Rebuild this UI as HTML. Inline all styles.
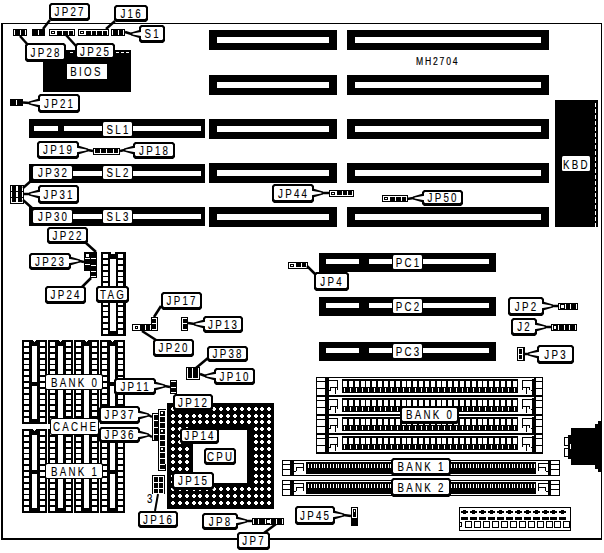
<!DOCTYPE html>
<html><head><meta charset="utf-8"><style>
html,body{margin:0;padding:0;background:#fff;width:604px;height:553px;overflow:hidden}
svg{display:block}
text{font-family:"Liberation Sans",sans-serif;fill:#000;stroke:#000;stroke-width:0.12px}
</style></head><body>
<svg width="604" height="553" viewBox="0 0 604 553" shape-rendering="crispEdges">
<rect x="0" y="0" width="604" height="553" fill="#fff"/>
<rect x="1" y="23" width="601" height="1" fill="#000"/>
<rect x="1" y="23" width="2" height="517" fill="#000"/>
<rect x="601" y="23" width="1" height="517" fill="#000"/>
<rect x="1" y="538" width="601" height="2" fill="#000"/>
<rect x="209" y="30" width="128" height="20" fill="#000"/>
<rect x="217" y="37" width="112" height="6" fill="#fff"/>
<rect x="347" y="30" width="202" height="20" fill="#000"/>
<rect x="355" y="37" width="186" height="6" fill="#fff"/>
<rect x="209" y="75" width="128" height="20" fill="#000"/>
<rect x="217" y="82" width="112" height="6" fill="#fff"/>
<rect x="347" y="75" width="202" height="20" fill="#000"/>
<rect x="355" y="82" width="186" height="6" fill="#fff"/>
<rect x="209" y="119" width="128" height="20" fill="#000"/>
<rect x="217" y="126" width="112" height="6" fill="#fff"/>
<rect x="347" y="119" width="202" height="20" fill="#000"/>
<rect x="355" y="126" width="186" height="6" fill="#fff"/>
<rect x="209" y="163" width="128" height="20" fill="#000"/>
<rect x="217" y="170" width="112" height="6" fill="#fff"/>
<rect x="347" y="163" width="202" height="20" fill="#000"/>
<rect x="355" y="170" width="186" height="6" fill="#fff"/>
<rect x="209" y="207" width="128" height="20" fill="#000"/>
<rect x="217" y="214" width="112" height="6" fill="#fff"/>
<rect x="347" y="207" width="202" height="20" fill="#000"/>
<rect x="355" y="214" width="186" height="6" fill="#fff"/>
<rect x="29" y="119" width="176" height="19" fill="#000"/>
<rect x="34" y="126" width="167" height="5" fill="#fff"/>
<rect x="29" y="164" width="176" height="19" fill="#000"/>
<rect x="34" y="171" width="167" height="5" fill="#fff"/>
<rect x="29" y="207" width="176" height="19" fill="#000"/>
<rect x="34" y="214" width="167" height="5" fill="#fff"/>
<rect x="58" y="126" width="6" height="6" fill="#000"/>
<rect x="43" y="50" width="88" height="42" fill="#000"/>
<rect x="116" y="52" width="3" height="1" fill="#fff"/>
<rect x="121" y="52" width="3" height="1" fill="#fff"/>
<rect x="126" y="52" width="3" height="1" fill="#fff"/>
<rect x="70" y="52" width="3" height="1" fill="#fff"/>
<rect x="67" y="64" width="40" height="15" fill="#fff"/>
<text transform="translate(86.5,76.3) scale(0.75,1)" font-size="13" letter-spacing="3.0" text-anchor="middle">BIOS</text>
<rect x="555" y="100" width="43" height="127" fill="#000"/>
<rect x="595" y="103" width="1" height="4" fill="#fff"/>
<rect x="595" y="109" width="1" height="4" fill="#fff"/>
<rect x="595" y="115" width="1" height="4" fill="#fff"/>
<rect x="595" y="121" width="1" height="4" fill="#fff"/>
<rect x="595" y="127" width="1" height="4" fill="#fff"/>
<rect x="595" y="133" width="1" height="4" fill="#fff"/>
<rect x="595" y="139" width="1" height="4" fill="#fff"/>
<rect x="595" y="145" width="1" height="4" fill="#fff"/>
<rect x="595" y="151" width="1" height="4" fill="#fff"/>
<rect x="595" y="157" width="1" height="4" fill="#fff"/>
<rect x="595" y="163" width="1" height="4" fill="#fff"/>
<rect x="595" y="169" width="1" height="4" fill="#fff"/>
<rect x="595" y="175" width="1" height="4" fill="#fff"/>
<rect x="595" y="181" width="1" height="4" fill="#fff"/>
<rect x="595" y="187" width="1" height="4" fill="#fff"/>
<rect x="595" y="193" width="1" height="4" fill="#fff"/>
<rect x="595" y="199" width="1" height="4" fill="#fff"/>
<rect x="595" y="205" width="1" height="4" fill="#fff"/>
<rect x="595" y="211" width="1" height="4" fill="#fff"/>
<rect x="595" y="217" width="1" height="4" fill="#fff"/>
<rect x="595" y="223" width="1" height="4" fill="#fff"/>
<rect x="562" y="156" width="28" height="15" rx="1.5" fill="#fff" shape-rendering="geometricPrecision"/>
<text transform="translate(576.5,168.5) scale(0.75,1)" font-size="13" letter-spacing="3.0" text-anchor="middle">KBD</text>
<text transform="translate(416,64.5) scale(0.75,1)" font-size="11.5" letter-spacing="2.4" style="stroke-width:0.2px">MH2704</text>
<rect x="22" y="340" width="25" height="84" fill="#000"/>
<rect x="24" y="342" width="5" height="4" fill="#fff"/>
<rect x="40" y="342" width="5" height="4" fill="#fff"/>
<rect x="24" y="348" width="5" height="4" fill="#fff"/>
<rect x="40" y="348" width="5" height="4" fill="#fff"/>
<rect x="24" y="354" width="5" height="4" fill="#fff"/>
<rect x="40" y="354" width="5" height="4" fill="#fff"/>
<rect x="24" y="360" width="5" height="4" fill="#fff"/>
<rect x="40" y="360" width="5" height="4" fill="#fff"/>
<rect x="24" y="365" width="5" height="4" fill="#fff"/>
<rect x="40" y="365" width="5" height="4" fill="#fff"/>
<rect x="24" y="371" width="5" height="4" fill="#fff"/>
<rect x="40" y="371" width="5" height="4" fill="#fff"/>
<rect x="24" y="377" width="5" height="4" fill="#fff"/>
<rect x="40" y="377" width="5" height="4" fill="#fff"/>
<rect x="24" y="383" width="5" height="4" fill="#fff"/>
<rect x="40" y="383" width="5" height="4" fill="#fff"/>
<rect x="24" y="389" width="5" height="4" fill="#fff"/>
<rect x="40" y="389" width="5" height="4" fill="#fff"/>
<rect x="24" y="395" width="5" height="4" fill="#fff"/>
<rect x="40" y="395" width="5" height="4" fill="#fff"/>
<rect x="24" y="400" width="5" height="4" fill="#fff"/>
<rect x="40" y="400" width="5" height="4" fill="#fff"/>
<rect x="24" y="406" width="5" height="4" fill="#fff"/>
<rect x="40" y="406" width="5" height="4" fill="#fff"/>
<rect x="24" y="412" width="5" height="4" fill="#fff"/>
<rect x="40" y="412" width="5" height="4" fill="#fff"/>
<rect x="24" y="418" width="5" height="4" fill="#fff"/>
<rect x="40" y="418" width="5" height="4" fill="#fff"/>
<rect x="32" y="346" width="5" height="73" fill="#fff"/>
<rect x="32" y="382" width="5" height="4" fill="#000"/>
<rect x="33" y="340" width="3" height="1" fill="#fff"/>
<rect x="34" y="341" width="1" height="1" fill="#fff"/>
<rect x="22" y="429" width="25" height="84" fill="#000"/>
<rect x="24" y="431" width="5" height="4" fill="#fff"/>
<rect x="40" y="431" width="5" height="4" fill="#fff"/>
<rect x="24" y="437" width="5" height="4" fill="#fff"/>
<rect x="40" y="437" width="5" height="4" fill="#fff"/>
<rect x="24" y="443" width="5" height="4" fill="#fff"/>
<rect x="40" y="443" width="5" height="4" fill="#fff"/>
<rect x="24" y="449" width="5" height="4" fill="#fff"/>
<rect x="40" y="449" width="5" height="4" fill="#fff"/>
<rect x="24" y="454" width="5" height="4" fill="#fff"/>
<rect x="40" y="454" width="5" height="4" fill="#fff"/>
<rect x="24" y="460" width="5" height="4" fill="#fff"/>
<rect x="40" y="460" width="5" height="4" fill="#fff"/>
<rect x="24" y="466" width="5" height="4" fill="#fff"/>
<rect x="40" y="466" width="5" height="4" fill="#fff"/>
<rect x="24" y="472" width="5" height="4" fill="#fff"/>
<rect x="40" y="472" width="5" height="4" fill="#fff"/>
<rect x="24" y="478" width="5" height="4" fill="#fff"/>
<rect x="40" y="478" width="5" height="4" fill="#fff"/>
<rect x="24" y="484" width="5" height="4" fill="#fff"/>
<rect x="40" y="484" width="5" height="4" fill="#fff"/>
<rect x="24" y="490" width="5" height="4" fill="#fff"/>
<rect x="40" y="490" width="5" height="4" fill="#fff"/>
<rect x="24" y="495" width="5" height="4" fill="#fff"/>
<rect x="40" y="495" width="5" height="4" fill="#fff"/>
<rect x="24" y="501" width="5" height="4" fill="#fff"/>
<rect x="40" y="501" width="5" height="4" fill="#fff"/>
<rect x="24" y="507" width="5" height="4" fill="#fff"/>
<rect x="40" y="507" width="5" height="4" fill="#fff"/>
<rect x="32" y="435" width="5" height="73" fill="#fff"/>
<rect x="32" y="470" width="5" height="4" fill="#000"/>
<rect x="33" y="429" width="3" height="1" fill="#fff"/>
<rect x="34" y="430" width="1" height="1" fill="#fff"/>
<rect x="48" y="340" width="25" height="84" fill="#000"/>
<rect x="50" y="342" width="5" height="4" fill="#fff"/>
<rect x="66" y="342" width="5" height="4" fill="#fff"/>
<rect x="50" y="348" width="5" height="4" fill="#fff"/>
<rect x="66" y="348" width="5" height="4" fill="#fff"/>
<rect x="50" y="354" width="5" height="4" fill="#fff"/>
<rect x="66" y="354" width="5" height="4" fill="#fff"/>
<rect x="50" y="360" width="5" height="4" fill="#fff"/>
<rect x="66" y="360" width="5" height="4" fill="#fff"/>
<rect x="50" y="365" width="5" height="4" fill="#fff"/>
<rect x="66" y="365" width="5" height="4" fill="#fff"/>
<rect x="50" y="371" width="5" height="4" fill="#fff"/>
<rect x="66" y="371" width="5" height="4" fill="#fff"/>
<rect x="50" y="377" width="5" height="4" fill="#fff"/>
<rect x="66" y="377" width="5" height="4" fill="#fff"/>
<rect x="50" y="383" width="5" height="4" fill="#fff"/>
<rect x="66" y="383" width="5" height="4" fill="#fff"/>
<rect x="50" y="389" width="5" height="4" fill="#fff"/>
<rect x="66" y="389" width="5" height="4" fill="#fff"/>
<rect x="50" y="395" width="5" height="4" fill="#fff"/>
<rect x="66" y="395" width="5" height="4" fill="#fff"/>
<rect x="50" y="400" width="5" height="4" fill="#fff"/>
<rect x="66" y="400" width="5" height="4" fill="#fff"/>
<rect x="50" y="406" width="5" height="4" fill="#fff"/>
<rect x="66" y="406" width="5" height="4" fill="#fff"/>
<rect x="50" y="412" width="5" height="4" fill="#fff"/>
<rect x="66" y="412" width="5" height="4" fill="#fff"/>
<rect x="50" y="418" width="5" height="4" fill="#fff"/>
<rect x="66" y="418" width="5" height="4" fill="#fff"/>
<rect x="58" y="346" width="5" height="73" fill="#fff"/>
<rect x="58" y="382" width="5" height="4" fill="#000"/>
<rect x="59" y="340" width="3" height="1" fill="#fff"/>
<rect x="60" y="341" width="1" height="1" fill="#fff"/>
<rect x="48" y="429" width="25" height="84" fill="#000"/>
<rect x="50" y="431" width="5" height="4" fill="#fff"/>
<rect x="66" y="431" width="5" height="4" fill="#fff"/>
<rect x="50" y="437" width="5" height="4" fill="#fff"/>
<rect x="66" y="437" width="5" height="4" fill="#fff"/>
<rect x="50" y="443" width="5" height="4" fill="#fff"/>
<rect x="66" y="443" width="5" height="4" fill="#fff"/>
<rect x="50" y="449" width="5" height="4" fill="#fff"/>
<rect x="66" y="449" width="5" height="4" fill="#fff"/>
<rect x="50" y="454" width="5" height="4" fill="#fff"/>
<rect x="66" y="454" width="5" height="4" fill="#fff"/>
<rect x="50" y="460" width="5" height="4" fill="#fff"/>
<rect x="66" y="460" width="5" height="4" fill="#fff"/>
<rect x="50" y="466" width="5" height="4" fill="#fff"/>
<rect x="66" y="466" width="5" height="4" fill="#fff"/>
<rect x="50" y="472" width="5" height="4" fill="#fff"/>
<rect x="66" y="472" width="5" height="4" fill="#fff"/>
<rect x="50" y="478" width="5" height="4" fill="#fff"/>
<rect x="66" y="478" width="5" height="4" fill="#fff"/>
<rect x="50" y="484" width="5" height="4" fill="#fff"/>
<rect x="66" y="484" width="5" height="4" fill="#fff"/>
<rect x="50" y="490" width="5" height="4" fill="#fff"/>
<rect x="66" y="490" width="5" height="4" fill="#fff"/>
<rect x="50" y="495" width="5" height="4" fill="#fff"/>
<rect x="66" y="495" width="5" height="4" fill="#fff"/>
<rect x="50" y="501" width="5" height="4" fill="#fff"/>
<rect x="66" y="501" width="5" height="4" fill="#fff"/>
<rect x="50" y="507" width="5" height="4" fill="#fff"/>
<rect x="66" y="507" width="5" height="4" fill="#fff"/>
<rect x="58" y="435" width="5" height="73" fill="#fff"/>
<rect x="58" y="470" width="5" height="4" fill="#000"/>
<rect x="59" y="429" width="3" height="1" fill="#fff"/>
<rect x="60" y="430" width="1" height="1" fill="#fff"/>
<rect x="74" y="340" width="25" height="84" fill="#000"/>
<rect x="76" y="342" width="5" height="4" fill="#fff"/>
<rect x="92" y="342" width="5" height="4" fill="#fff"/>
<rect x="76" y="348" width="5" height="4" fill="#fff"/>
<rect x="92" y="348" width="5" height="4" fill="#fff"/>
<rect x="76" y="354" width="5" height="4" fill="#fff"/>
<rect x="92" y="354" width="5" height="4" fill="#fff"/>
<rect x="76" y="360" width="5" height="4" fill="#fff"/>
<rect x="92" y="360" width="5" height="4" fill="#fff"/>
<rect x="76" y="365" width="5" height="4" fill="#fff"/>
<rect x="92" y="365" width="5" height="4" fill="#fff"/>
<rect x="76" y="371" width="5" height="4" fill="#fff"/>
<rect x="92" y="371" width="5" height="4" fill="#fff"/>
<rect x="76" y="377" width="5" height="4" fill="#fff"/>
<rect x="92" y="377" width="5" height="4" fill="#fff"/>
<rect x="76" y="383" width="5" height="4" fill="#fff"/>
<rect x="92" y="383" width="5" height="4" fill="#fff"/>
<rect x="76" y="389" width="5" height="4" fill="#fff"/>
<rect x="92" y="389" width="5" height="4" fill="#fff"/>
<rect x="76" y="395" width="5" height="4" fill="#fff"/>
<rect x="92" y="395" width="5" height="4" fill="#fff"/>
<rect x="76" y="400" width="5" height="4" fill="#fff"/>
<rect x="92" y="400" width="5" height="4" fill="#fff"/>
<rect x="76" y="406" width="5" height="4" fill="#fff"/>
<rect x="92" y="406" width="5" height="4" fill="#fff"/>
<rect x="76" y="412" width="5" height="4" fill="#fff"/>
<rect x="92" y="412" width="5" height="4" fill="#fff"/>
<rect x="76" y="418" width="5" height="4" fill="#fff"/>
<rect x="92" y="418" width="5" height="4" fill="#fff"/>
<rect x="84" y="346" width="5" height="73" fill="#fff"/>
<rect x="84" y="382" width="5" height="4" fill="#000"/>
<rect x="85" y="340" width="3" height="1" fill="#fff"/>
<rect x="86" y="341" width="1" height="1" fill="#fff"/>
<rect x="74" y="429" width="25" height="84" fill="#000"/>
<rect x="76" y="431" width="5" height="4" fill="#fff"/>
<rect x="92" y="431" width="5" height="4" fill="#fff"/>
<rect x="76" y="437" width="5" height="4" fill="#fff"/>
<rect x="92" y="437" width="5" height="4" fill="#fff"/>
<rect x="76" y="443" width="5" height="4" fill="#fff"/>
<rect x="92" y="443" width="5" height="4" fill="#fff"/>
<rect x="76" y="449" width="5" height="4" fill="#fff"/>
<rect x="92" y="449" width="5" height="4" fill="#fff"/>
<rect x="76" y="454" width="5" height="4" fill="#fff"/>
<rect x="92" y="454" width="5" height="4" fill="#fff"/>
<rect x="76" y="460" width="5" height="4" fill="#fff"/>
<rect x="92" y="460" width="5" height="4" fill="#fff"/>
<rect x="76" y="466" width="5" height="4" fill="#fff"/>
<rect x="92" y="466" width="5" height="4" fill="#fff"/>
<rect x="76" y="472" width="5" height="4" fill="#fff"/>
<rect x="92" y="472" width="5" height="4" fill="#fff"/>
<rect x="76" y="478" width="5" height="4" fill="#fff"/>
<rect x="92" y="478" width="5" height="4" fill="#fff"/>
<rect x="76" y="484" width="5" height="4" fill="#fff"/>
<rect x="92" y="484" width="5" height="4" fill="#fff"/>
<rect x="76" y="490" width="5" height="4" fill="#fff"/>
<rect x="92" y="490" width="5" height="4" fill="#fff"/>
<rect x="76" y="495" width="5" height="4" fill="#fff"/>
<rect x="92" y="495" width="5" height="4" fill="#fff"/>
<rect x="76" y="501" width="5" height="4" fill="#fff"/>
<rect x="92" y="501" width="5" height="4" fill="#fff"/>
<rect x="76" y="507" width="5" height="4" fill="#fff"/>
<rect x="92" y="507" width="5" height="4" fill="#fff"/>
<rect x="84" y="435" width="5" height="73" fill="#fff"/>
<rect x="84" y="470" width="5" height="4" fill="#000"/>
<rect x="85" y="429" width="3" height="1" fill="#fff"/>
<rect x="86" y="430" width="1" height="1" fill="#fff"/>
<rect x="100" y="340" width="25" height="84" fill="#000"/>
<rect x="102" y="342" width="5" height="4" fill="#fff"/>
<rect x="118" y="342" width="5" height="4" fill="#fff"/>
<rect x="102" y="348" width="5" height="4" fill="#fff"/>
<rect x="118" y="348" width="5" height="4" fill="#fff"/>
<rect x="102" y="354" width="5" height="4" fill="#fff"/>
<rect x="118" y="354" width="5" height="4" fill="#fff"/>
<rect x="102" y="360" width="5" height="4" fill="#fff"/>
<rect x="118" y="360" width="5" height="4" fill="#fff"/>
<rect x="102" y="365" width="5" height="4" fill="#fff"/>
<rect x="118" y="365" width="5" height="4" fill="#fff"/>
<rect x="102" y="371" width="5" height="4" fill="#fff"/>
<rect x="118" y="371" width="5" height="4" fill="#fff"/>
<rect x="102" y="377" width="5" height="4" fill="#fff"/>
<rect x="118" y="377" width="5" height="4" fill="#fff"/>
<rect x="102" y="383" width="5" height="4" fill="#fff"/>
<rect x="118" y="383" width="5" height="4" fill="#fff"/>
<rect x="102" y="389" width="5" height="4" fill="#fff"/>
<rect x="118" y="389" width="5" height="4" fill="#fff"/>
<rect x="102" y="395" width="5" height="4" fill="#fff"/>
<rect x="118" y="395" width="5" height="4" fill="#fff"/>
<rect x="102" y="400" width="5" height="4" fill="#fff"/>
<rect x="118" y="400" width="5" height="4" fill="#fff"/>
<rect x="102" y="406" width="5" height="4" fill="#fff"/>
<rect x="118" y="406" width="5" height="4" fill="#fff"/>
<rect x="102" y="412" width="5" height="4" fill="#fff"/>
<rect x="118" y="412" width="5" height="4" fill="#fff"/>
<rect x="102" y="418" width="5" height="4" fill="#fff"/>
<rect x="118" y="418" width="5" height="4" fill="#fff"/>
<rect x="110" y="346" width="5" height="73" fill="#fff"/>
<rect x="110" y="382" width="5" height="4" fill="#000"/>
<rect x="111" y="340" width="3" height="1" fill="#fff"/>
<rect x="112" y="341" width="1" height="1" fill="#fff"/>
<rect x="100" y="429" width="25" height="84" fill="#000"/>
<rect x="102" y="431" width="5" height="4" fill="#fff"/>
<rect x="118" y="431" width="5" height="4" fill="#fff"/>
<rect x="102" y="437" width="5" height="4" fill="#fff"/>
<rect x="118" y="437" width="5" height="4" fill="#fff"/>
<rect x="102" y="443" width="5" height="4" fill="#fff"/>
<rect x="118" y="443" width="5" height="4" fill="#fff"/>
<rect x="102" y="449" width="5" height="4" fill="#fff"/>
<rect x="118" y="449" width="5" height="4" fill="#fff"/>
<rect x="102" y="454" width="5" height="4" fill="#fff"/>
<rect x="118" y="454" width="5" height="4" fill="#fff"/>
<rect x="102" y="460" width="5" height="4" fill="#fff"/>
<rect x="118" y="460" width="5" height="4" fill="#fff"/>
<rect x="102" y="466" width="5" height="4" fill="#fff"/>
<rect x="118" y="466" width="5" height="4" fill="#fff"/>
<rect x="102" y="472" width="5" height="4" fill="#fff"/>
<rect x="118" y="472" width="5" height="4" fill="#fff"/>
<rect x="102" y="478" width="5" height="4" fill="#fff"/>
<rect x="118" y="478" width="5" height="4" fill="#fff"/>
<rect x="102" y="484" width="5" height="4" fill="#fff"/>
<rect x="118" y="484" width="5" height="4" fill="#fff"/>
<rect x="102" y="490" width="5" height="4" fill="#fff"/>
<rect x="118" y="490" width="5" height="4" fill="#fff"/>
<rect x="102" y="495" width="5" height="4" fill="#fff"/>
<rect x="118" y="495" width="5" height="4" fill="#fff"/>
<rect x="102" y="501" width="5" height="4" fill="#fff"/>
<rect x="118" y="501" width="5" height="4" fill="#fff"/>
<rect x="102" y="507" width="5" height="4" fill="#fff"/>
<rect x="118" y="507" width="5" height="4" fill="#fff"/>
<rect x="110" y="435" width="5" height="73" fill="#fff"/>
<rect x="110" y="470" width="5" height="4" fill="#000"/>
<rect x="111" y="429" width="3" height="1" fill="#fff"/>
<rect x="112" y="430" width="1" height="1" fill="#fff"/>
<rect x="101" y="252" width="25" height="84" fill="#000"/>
<rect x="103" y="254" width="5" height="4" fill="#fff"/>
<rect x="118" y="254" width="5" height="4" fill="#fff"/>
<rect x="103" y="260" width="5" height="4" fill="#fff"/>
<rect x="118" y="260" width="5" height="4" fill="#fff"/>
<rect x="103" y="266" width="5" height="4" fill="#fff"/>
<rect x="118" y="266" width="5" height="4" fill="#fff"/>
<rect x="103" y="272" width="5" height="4" fill="#fff"/>
<rect x="118" y="272" width="5" height="4" fill="#fff"/>
<rect x="103" y="277" width="5" height="4" fill="#fff"/>
<rect x="118" y="277" width="5" height="4" fill="#fff"/>
<rect x="103" y="283" width="5" height="4" fill="#fff"/>
<rect x="118" y="283" width="5" height="4" fill="#fff"/>
<rect x="103" y="289" width="5" height="4" fill="#fff"/>
<rect x="118" y="289" width="5" height="4" fill="#fff"/>
<rect x="103" y="295" width="5" height="4" fill="#fff"/>
<rect x="118" y="295" width="5" height="4" fill="#fff"/>
<rect x="103" y="301" width="5" height="4" fill="#fff"/>
<rect x="118" y="301" width="5" height="4" fill="#fff"/>
<rect x="103" y="307" width="5" height="4" fill="#fff"/>
<rect x="118" y="307" width="5" height="4" fill="#fff"/>
<rect x="103" y="312" width="5" height="4" fill="#fff"/>
<rect x="118" y="312" width="5" height="4" fill="#fff"/>
<rect x="103" y="318" width="5" height="4" fill="#fff"/>
<rect x="118" y="318" width="5" height="4" fill="#fff"/>
<rect x="103" y="324" width="5" height="4" fill="#fff"/>
<rect x="118" y="324" width="5" height="4" fill="#fff"/>
<rect x="103" y="330" width="5" height="4" fill="#fff"/>
<rect x="118" y="330" width="5" height="4" fill="#fff"/>
<rect x="111" y="252" width="4" height="2" fill="#fff"/>
<rect x="110" y="259" width="6" height="72" fill="#fff"/>
<rect x="167" y="403" width="107" height="106" fill="#000"/>
<rect x="193" y="430" width="54" height="53" fill="#fff"/>
<rect x="171" y="408" width="4" height="2" fill="#fff"/>
<rect x="172" y="407" width="2" height="4" fill="#fff"/>
<rect x="171" y="415" width="4" height="2" fill="#fff"/>
<rect x="172" y="414" width="2" height="4" fill="#fff"/>
<rect x="171" y="421" width="4" height="2" fill="#fff"/>
<rect x="172" y="420" width="2" height="4" fill="#fff"/>
<rect x="171" y="428" width="4" height="2" fill="#fff"/>
<rect x="172" y="427" width="2" height="4" fill="#fff"/>
<rect x="171" y="435" width="4" height="2" fill="#fff"/>
<rect x="172" y="434" width="2" height="4" fill="#fff"/>
<rect x="171" y="441" width="4" height="2" fill="#fff"/>
<rect x="172" y="440" width="2" height="4" fill="#fff"/>
<rect x="171" y="448" width="4" height="2" fill="#fff"/>
<rect x="172" y="447" width="2" height="4" fill="#fff"/>
<rect x="171" y="455" width="4" height="2" fill="#fff"/>
<rect x="172" y="454" width="2" height="4" fill="#fff"/>
<rect x="171" y="461" width="4" height="2" fill="#fff"/>
<rect x="172" y="460" width="2" height="4" fill="#fff"/>
<rect x="171" y="468" width="4" height="2" fill="#fff"/>
<rect x="172" y="467" width="2" height="4" fill="#fff"/>
<rect x="171" y="475" width="4" height="2" fill="#fff"/>
<rect x="172" y="474" width="2" height="4" fill="#fff"/>
<rect x="171" y="481" width="4" height="2" fill="#fff"/>
<rect x="172" y="480" width="2" height="4" fill="#fff"/>
<rect x="171" y="488" width="4" height="2" fill="#fff"/>
<rect x="172" y="487" width="2" height="4" fill="#fff"/>
<rect x="171" y="495" width="4" height="2" fill="#fff"/>
<rect x="172" y="494" width="2" height="4" fill="#fff"/>
<rect x="171" y="502" width="4" height="2" fill="#fff"/>
<rect x="172" y="501" width="2" height="4" fill="#fff"/>
<rect x="178" y="408" width="4" height="2" fill="#fff"/>
<rect x="179" y="407" width="2" height="4" fill="#fff"/>
<rect x="178" y="415" width="4" height="2" fill="#fff"/>
<rect x="179" y="414" width="2" height="4" fill="#fff"/>
<rect x="178" y="421" width="4" height="2" fill="#fff"/>
<rect x="179" y="420" width="2" height="4" fill="#fff"/>
<rect x="178" y="428" width="4" height="2" fill="#fff"/>
<rect x="179" y="427" width="2" height="4" fill="#fff"/>
<rect x="178" y="435" width="4" height="2" fill="#fff"/>
<rect x="179" y="434" width="2" height="4" fill="#fff"/>
<rect x="178" y="441" width="4" height="2" fill="#fff"/>
<rect x="179" y="440" width="2" height="4" fill="#fff"/>
<rect x="178" y="448" width="4" height="2" fill="#fff"/>
<rect x="179" y="447" width="2" height="4" fill="#fff"/>
<rect x="178" y="455" width="4" height="2" fill="#fff"/>
<rect x="179" y="454" width="2" height="4" fill="#fff"/>
<rect x="178" y="461" width="4" height="2" fill="#fff"/>
<rect x="179" y="460" width="2" height="4" fill="#fff"/>
<rect x="178" y="468" width="4" height="2" fill="#fff"/>
<rect x="179" y="467" width="2" height="4" fill="#fff"/>
<rect x="178" y="475" width="4" height="2" fill="#fff"/>
<rect x="179" y="474" width="2" height="4" fill="#fff"/>
<rect x="178" y="481" width="4" height="2" fill="#fff"/>
<rect x="179" y="480" width="2" height="4" fill="#fff"/>
<rect x="178" y="488" width="4" height="2" fill="#fff"/>
<rect x="179" y="487" width="2" height="4" fill="#fff"/>
<rect x="178" y="495" width="4" height="2" fill="#fff"/>
<rect x="179" y="494" width="2" height="4" fill="#fff"/>
<rect x="178" y="502" width="4" height="2" fill="#fff"/>
<rect x="179" y="501" width="2" height="4" fill="#fff"/>
<rect x="185" y="408" width="4" height="2" fill="#fff"/>
<rect x="186" y="407" width="2" height="4" fill="#fff"/>
<rect x="185" y="415" width="4" height="2" fill="#fff"/>
<rect x="186" y="414" width="2" height="4" fill="#fff"/>
<rect x="185" y="421" width="4" height="2" fill="#fff"/>
<rect x="186" y="420" width="2" height="4" fill="#fff"/>
<rect x="185" y="428" width="4" height="2" fill="#fff"/>
<rect x="186" y="427" width="2" height="4" fill="#fff"/>
<rect x="185" y="435" width="4" height="2" fill="#fff"/>
<rect x="186" y="434" width="2" height="4" fill="#fff"/>
<rect x="185" y="441" width="4" height="2" fill="#fff"/>
<rect x="186" y="440" width="2" height="4" fill="#fff"/>
<rect x="185" y="448" width="4" height="2" fill="#fff"/>
<rect x="186" y="447" width="2" height="4" fill="#fff"/>
<rect x="185" y="455" width="4" height="2" fill="#fff"/>
<rect x="186" y="454" width="2" height="4" fill="#fff"/>
<rect x="185" y="461" width="4" height="2" fill="#fff"/>
<rect x="186" y="460" width="2" height="4" fill="#fff"/>
<rect x="185" y="468" width="4" height="2" fill="#fff"/>
<rect x="186" y="467" width="2" height="4" fill="#fff"/>
<rect x="185" y="475" width="4" height="2" fill="#fff"/>
<rect x="186" y="474" width="2" height="4" fill="#fff"/>
<rect x="185" y="481" width="4" height="2" fill="#fff"/>
<rect x="186" y="480" width="2" height="4" fill="#fff"/>
<rect x="185" y="488" width="4" height="2" fill="#fff"/>
<rect x="186" y="487" width="2" height="4" fill="#fff"/>
<rect x="185" y="495" width="4" height="2" fill="#fff"/>
<rect x="186" y="494" width="2" height="4" fill="#fff"/>
<rect x="185" y="502" width="4" height="2" fill="#fff"/>
<rect x="186" y="501" width="2" height="4" fill="#fff"/>
<rect x="192" y="408" width="4" height="2" fill="#fff"/>
<rect x="193" y="407" width="2" height="4" fill="#fff"/>
<rect x="192" y="415" width="4" height="2" fill="#fff"/>
<rect x="193" y="414" width="2" height="4" fill="#fff"/>
<rect x="192" y="421" width="4" height="2" fill="#fff"/>
<rect x="193" y="420" width="2" height="4" fill="#fff"/>
<rect x="192" y="488" width="4" height="2" fill="#fff"/>
<rect x="193" y="487" width="2" height="4" fill="#fff"/>
<rect x="192" y="495" width="4" height="2" fill="#fff"/>
<rect x="193" y="494" width="2" height="4" fill="#fff"/>
<rect x="192" y="502" width="4" height="2" fill="#fff"/>
<rect x="193" y="501" width="2" height="4" fill="#fff"/>
<rect x="198" y="408" width="4" height="2" fill="#fff"/>
<rect x="199" y="407" width="2" height="4" fill="#fff"/>
<rect x="198" y="415" width="4" height="2" fill="#fff"/>
<rect x="199" y="414" width="2" height="4" fill="#fff"/>
<rect x="198" y="421" width="4" height="2" fill="#fff"/>
<rect x="199" y="420" width="2" height="4" fill="#fff"/>
<rect x="198" y="488" width="4" height="2" fill="#fff"/>
<rect x="199" y="487" width="2" height="4" fill="#fff"/>
<rect x="198" y="495" width="4" height="2" fill="#fff"/>
<rect x="199" y="494" width="2" height="4" fill="#fff"/>
<rect x="198" y="502" width="4" height="2" fill="#fff"/>
<rect x="199" y="501" width="2" height="4" fill="#fff"/>
<rect x="205" y="408" width="4" height="2" fill="#fff"/>
<rect x="206" y="407" width="2" height="4" fill="#fff"/>
<rect x="205" y="415" width="4" height="2" fill="#fff"/>
<rect x="206" y="414" width="2" height="4" fill="#fff"/>
<rect x="205" y="421" width="4" height="2" fill="#fff"/>
<rect x="206" y="420" width="2" height="4" fill="#fff"/>
<rect x="205" y="488" width="4" height="2" fill="#fff"/>
<rect x="206" y="487" width="2" height="4" fill="#fff"/>
<rect x="205" y="495" width="4" height="2" fill="#fff"/>
<rect x="206" y="494" width="2" height="4" fill="#fff"/>
<rect x="205" y="502" width="4" height="2" fill="#fff"/>
<rect x="206" y="501" width="2" height="4" fill="#fff"/>
<rect x="212" y="408" width="4" height="2" fill="#fff"/>
<rect x="213" y="407" width="2" height="4" fill="#fff"/>
<rect x="212" y="415" width="4" height="2" fill="#fff"/>
<rect x="213" y="414" width="2" height="4" fill="#fff"/>
<rect x="212" y="421" width="4" height="2" fill="#fff"/>
<rect x="213" y="420" width="2" height="4" fill="#fff"/>
<rect x="212" y="488" width="4" height="2" fill="#fff"/>
<rect x="213" y="487" width="2" height="4" fill="#fff"/>
<rect x="212" y="495" width="4" height="2" fill="#fff"/>
<rect x="213" y="494" width="2" height="4" fill="#fff"/>
<rect x="212" y="502" width="4" height="2" fill="#fff"/>
<rect x="213" y="501" width="2" height="4" fill="#fff"/>
<rect x="219" y="408" width="4" height="2" fill="#fff"/>
<rect x="220" y="407" width="2" height="4" fill="#fff"/>
<rect x="219" y="415" width="4" height="2" fill="#fff"/>
<rect x="220" y="414" width="2" height="4" fill="#fff"/>
<rect x="219" y="421" width="4" height="2" fill="#fff"/>
<rect x="220" y="420" width="2" height="4" fill="#fff"/>
<rect x="219" y="488" width="4" height="2" fill="#fff"/>
<rect x="220" y="487" width="2" height="4" fill="#fff"/>
<rect x="219" y="495" width="4" height="2" fill="#fff"/>
<rect x="220" y="494" width="2" height="4" fill="#fff"/>
<rect x="219" y="502" width="4" height="2" fill="#fff"/>
<rect x="220" y="501" width="2" height="4" fill="#fff"/>
<rect x="226" y="408" width="4" height="2" fill="#fff"/>
<rect x="227" y="407" width="2" height="4" fill="#fff"/>
<rect x="226" y="415" width="4" height="2" fill="#fff"/>
<rect x="227" y="414" width="2" height="4" fill="#fff"/>
<rect x="226" y="421" width="4" height="2" fill="#fff"/>
<rect x="227" y="420" width="2" height="4" fill="#fff"/>
<rect x="226" y="488" width="4" height="2" fill="#fff"/>
<rect x="227" y="487" width="2" height="4" fill="#fff"/>
<rect x="226" y="495" width="4" height="2" fill="#fff"/>
<rect x="227" y="494" width="2" height="4" fill="#fff"/>
<rect x="226" y="502" width="4" height="2" fill="#fff"/>
<rect x="227" y="501" width="2" height="4" fill="#fff"/>
<rect x="233" y="408" width="4" height="2" fill="#fff"/>
<rect x="234" y="407" width="2" height="4" fill="#fff"/>
<rect x="233" y="415" width="4" height="2" fill="#fff"/>
<rect x="234" y="414" width="2" height="4" fill="#fff"/>
<rect x="233" y="421" width="4" height="2" fill="#fff"/>
<rect x="234" y="420" width="2" height="4" fill="#fff"/>
<rect x="233" y="488" width="4" height="2" fill="#fff"/>
<rect x="234" y="487" width="2" height="4" fill="#fff"/>
<rect x="233" y="495" width="4" height="2" fill="#fff"/>
<rect x="234" y="494" width="2" height="4" fill="#fff"/>
<rect x="233" y="502" width="4" height="2" fill="#fff"/>
<rect x="234" y="501" width="2" height="4" fill="#fff"/>
<rect x="240" y="408" width="4" height="2" fill="#fff"/>
<rect x="241" y="407" width="2" height="4" fill="#fff"/>
<rect x="240" y="415" width="4" height="2" fill="#fff"/>
<rect x="241" y="414" width="2" height="4" fill="#fff"/>
<rect x="240" y="421" width="4" height="2" fill="#fff"/>
<rect x="241" y="420" width="2" height="4" fill="#fff"/>
<rect x="240" y="488" width="4" height="2" fill="#fff"/>
<rect x="241" y="487" width="2" height="4" fill="#fff"/>
<rect x="240" y="495" width="4" height="2" fill="#fff"/>
<rect x="241" y="494" width="2" height="4" fill="#fff"/>
<rect x="240" y="502" width="4" height="2" fill="#fff"/>
<rect x="241" y="501" width="2" height="4" fill="#fff"/>
<rect x="247" y="408" width="4" height="2" fill="#fff"/>
<rect x="248" y="407" width="2" height="4" fill="#fff"/>
<rect x="247" y="415" width="4" height="2" fill="#fff"/>
<rect x="248" y="414" width="2" height="4" fill="#fff"/>
<rect x="247" y="421" width="4" height="2" fill="#fff"/>
<rect x="248" y="420" width="2" height="4" fill="#fff"/>
<rect x="247" y="488" width="4" height="2" fill="#fff"/>
<rect x="248" y="487" width="2" height="4" fill="#fff"/>
<rect x="247" y="495" width="4" height="2" fill="#fff"/>
<rect x="248" y="494" width="2" height="4" fill="#fff"/>
<rect x="247" y="502" width="4" height="2" fill="#fff"/>
<rect x="248" y="501" width="2" height="4" fill="#fff"/>
<rect x="254" y="408" width="4" height="2" fill="#fff"/>
<rect x="255" y="407" width="2" height="4" fill="#fff"/>
<rect x="254" y="415" width="4" height="2" fill="#fff"/>
<rect x="255" y="414" width="2" height="4" fill="#fff"/>
<rect x="254" y="421" width="4" height="2" fill="#fff"/>
<rect x="255" y="420" width="2" height="4" fill="#fff"/>
<rect x="254" y="428" width="4" height="2" fill="#fff"/>
<rect x="255" y="427" width="2" height="4" fill="#fff"/>
<rect x="254" y="435" width="4" height="2" fill="#fff"/>
<rect x="255" y="434" width="2" height="4" fill="#fff"/>
<rect x="254" y="441" width="4" height="2" fill="#fff"/>
<rect x="255" y="440" width="2" height="4" fill="#fff"/>
<rect x="254" y="448" width="4" height="2" fill="#fff"/>
<rect x="255" y="447" width="2" height="4" fill="#fff"/>
<rect x="254" y="455" width="4" height="2" fill="#fff"/>
<rect x="255" y="454" width="2" height="4" fill="#fff"/>
<rect x="254" y="461" width="4" height="2" fill="#fff"/>
<rect x="255" y="460" width="2" height="4" fill="#fff"/>
<rect x="254" y="468" width="4" height="2" fill="#fff"/>
<rect x="255" y="467" width="2" height="4" fill="#fff"/>
<rect x="254" y="475" width="4" height="2" fill="#fff"/>
<rect x="255" y="474" width="2" height="4" fill="#fff"/>
<rect x="254" y="481" width="4" height="2" fill="#fff"/>
<rect x="255" y="480" width="2" height="4" fill="#fff"/>
<rect x="254" y="488" width="4" height="2" fill="#fff"/>
<rect x="255" y="487" width="2" height="4" fill="#fff"/>
<rect x="254" y="495" width="4" height="2" fill="#fff"/>
<rect x="255" y="494" width="2" height="4" fill="#fff"/>
<rect x="254" y="502" width="4" height="2" fill="#fff"/>
<rect x="255" y="501" width="2" height="4" fill="#fff"/>
<rect x="260" y="408" width="4" height="2" fill="#fff"/>
<rect x="261" y="407" width="2" height="4" fill="#fff"/>
<rect x="260" y="415" width="4" height="2" fill="#fff"/>
<rect x="261" y="414" width="2" height="4" fill="#fff"/>
<rect x="260" y="421" width="4" height="2" fill="#fff"/>
<rect x="261" y="420" width="2" height="4" fill="#fff"/>
<rect x="260" y="428" width="4" height="2" fill="#fff"/>
<rect x="261" y="427" width="2" height="4" fill="#fff"/>
<rect x="260" y="435" width="4" height="2" fill="#fff"/>
<rect x="261" y="434" width="2" height="4" fill="#fff"/>
<rect x="260" y="441" width="4" height="2" fill="#fff"/>
<rect x="261" y="440" width="2" height="4" fill="#fff"/>
<rect x="260" y="448" width="4" height="2" fill="#fff"/>
<rect x="261" y="447" width="2" height="4" fill="#fff"/>
<rect x="260" y="455" width="4" height="2" fill="#fff"/>
<rect x="261" y="454" width="2" height="4" fill="#fff"/>
<rect x="260" y="461" width="4" height="2" fill="#fff"/>
<rect x="261" y="460" width="2" height="4" fill="#fff"/>
<rect x="260" y="468" width="4" height="2" fill="#fff"/>
<rect x="261" y="467" width="2" height="4" fill="#fff"/>
<rect x="260" y="475" width="4" height="2" fill="#fff"/>
<rect x="261" y="474" width="2" height="4" fill="#fff"/>
<rect x="260" y="481" width="4" height="2" fill="#fff"/>
<rect x="261" y="480" width="2" height="4" fill="#fff"/>
<rect x="260" y="488" width="4" height="2" fill="#fff"/>
<rect x="261" y="487" width="2" height="4" fill="#fff"/>
<rect x="260" y="495" width="4" height="2" fill="#fff"/>
<rect x="261" y="494" width="2" height="4" fill="#fff"/>
<rect x="260" y="502" width="4" height="2" fill="#fff"/>
<rect x="261" y="501" width="2" height="4" fill="#fff"/>
<rect x="267" y="408" width="4" height="2" fill="#fff"/>
<rect x="268" y="407" width="2" height="4" fill="#fff"/>
<rect x="267" y="415" width="4" height="2" fill="#fff"/>
<rect x="268" y="414" width="2" height="4" fill="#fff"/>
<rect x="267" y="421" width="4" height="2" fill="#fff"/>
<rect x="268" y="420" width="2" height="4" fill="#fff"/>
<rect x="267" y="428" width="4" height="2" fill="#fff"/>
<rect x="268" y="427" width="2" height="4" fill="#fff"/>
<rect x="267" y="435" width="4" height="2" fill="#fff"/>
<rect x="268" y="434" width="2" height="4" fill="#fff"/>
<rect x="267" y="441" width="4" height="2" fill="#fff"/>
<rect x="268" y="440" width="2" height="4" fill="#fff"/>
<rect x="267" y="448" width="4" height="2" fill="#fff"/>
<rect x="268" y="447" width="2" height="4" fill="#fff"/>
<rect x="267" y="455" width="4" height="2" fill="#fff"/>
<rect x="268" y="454" width="2" height="4" fill="#fff"/>
<rect x="267" y="461" width="4" height="2" fill="#fff"/>
<rect x="268" y="460" width="2" height="4" fill="#fff"/>
<rect x="267" y="468" width="4" height="2" fill="#fff"/>
<rect x="268" y="467" width="2" height="4" fill="#fff"/>
<rect x="267" y="475" width="4" height="2" fill="#fff"/>
<rect x="268" y="474" width="2" height="4" fill="#fff"/>
<rect x="267" y="481" width="4" height="2" fill="#fff"/>
<rect x="268" y="480" width="2" height="4" fill="#fff"/>
<rect x="267" y="488" width="4" height="2" fill="#fff"/>
<rect x="268" y="487" width="2" height="4" fill="#fff"/>
<rect x="267" y="495" width="4" height="2" fill="#fff"/>
<rect x="268" y="494" width="2" height="4" fill="#fff"/>
<rect x="267" y="502" width="4" height="2" fill="#fff"/>
<rect x="268" y="501" width="2" height="4" fill="#fff"/>
<rect x="316" y="377" width="227" height="1" fill="#000"/>
<rect x="316" y="395" width="227" height="2" fill="#000"/>
<rect x="316" y="377" width="1" height="20" fill="#000"/>
<rect x="542" y="377" width="1" height="20" fill="#000"/>
<rect x="317" y="381" width="8" height="1" fill="#000"/>
<rect x="317" y="388" width="8" height="1" fill="#000"/>
<rect x="325" y="377" width="4" height="20" fill="#000"/>
<rect x="329" y="380" width="9" height="1" fill="#000"/>
<rect x="337" y="380" width="1" height="10" fill="#000"/>
<rect x="330" y="387" width="7" height="1" fill="#000"/>
<rect x="330" y="387" width="1" height="3" fill="#000"/>
<rect x="329" y="390" width="2" height="1" fill="#000"/>
<rect x="335" y="387" width="1" height="7" fill="#000"/>
<rect x="342" y="379" width="176" height="14" fill="#000"/>
<rect x="343" y="381" width="4" height="6" fill="#fff"/>
<rect x="344" y="388" width="1" height="4" fill="#fff"/>
<rect x="349" y="381" width="4" height="6" fill="#fff"/>
<rect x="350" y="388" width="1" height="4" fill="#fff"/>
<rect x="355" y="381" width="4" height="6" fill="#fff"/>
<rect x="356" y="388" width="1" height="4" fill="#fff"/>
<rect x="361" y="381" width="4" height="6" fill="#fff"/>
<rect x="362" y="388" width="1" height="4" fill="#fff"/>
<rect x="366" y="381" width="4" height="6" fill="#fff"/>
<rect x="368" y="388" width="1" height="4" fill="#fff"/>
<rect x="372" y="381" width="4" height="6" fill="#fff"/>
<rect x="374" y="388" width="1" height="4" fill="#fff"/>
<rect x="378" y="381" width="4" height="6" fill="#fff"/>
<rect x="380" y="388" width="1" height="4" fill="#fff"/>
<rect x="384" y="381" width="4" height="6" fill="#fff"/>
<rect x="385" y="388" width="1" height="4" fill="#fff"/>
<rect x="390" y="381" width="4" height="6" fill="#fff"/>
<rect x="391" y="388" width="1" height="4" fill="#fff"/>
<rect x="396" y="381" width="4" height="6" fill="#fff"/>
<rect x="397" y="388" width="1" height="4" fill="#fff"/>
<rect x="402" y="381" width="4" height="6" fill="#fff"/>
<rect x="403" y="388" width="1" height="4" fill="#fff"/>
<rect x="407" y="381" width="4" height="6" fill="#fff"/>
<rect x="409" y="388" width="1" height="4" fill="#fff"/>
<rect x="413" y="381" width="4" height="6" fill="#fff"/>
<rect x="415" y="388" width="1" height="4" fill="#fff"/>
<rect x="419" y="381" width="4" height="6" fill="#fff"/>
<rect x="421" y="388" width="1" height="4" fill="#fff"/>
<rect x="425" y="381" width="4" height="6" fill="#fff"/>
<rect x="426" y="388" width="1" height="4" fill="#fff"/>
<rect x="431" y="381" width="4" height="6" fill="#fff"/>
<rect x="432" y="388" width="1" height="4" fill="#fff"/>
<rect x="437" y="381" width="4" height="6" fill="#fff"/>
<rect x="438" y="388" width="1" height="4" fill="#fff"/>
<rect x="442" y="381" width="4" height="6" fill="#fff"/>
<rect x="444" y="388" width="1" height="4" fill="#fff"/>
<rect x="448" y="381" width="4" height="6" fill="#fff"/>
<rect x="450" y="388" width="1" height="4" fill="#fff"/>
<rect x="454" y="381" width="4" height="6" fill="#fff"/>
<rect x="456" y="388" width="1" height="4" fill="#fff"/>
<rect x="460" y="381" width="4" height="6" fill="#fff"/>
<rect x="462" y="388" width="1" height="4" fill="#fff"/>
<rect x="466" y="381" width="4" height="6" fill="#fff"/>
<rect x="467" y="388" width="1" height="4" fill="#fff"/>
<rect x="472" y="381" width="4" height="6" fill="#fff"/>
<rect x="473" y="388" width="1" height="4" fill="#fff"/>
<rect x="478" y="381" width="4" height="6" fill="#fff"/>
<rect x="479" y="388" width="1" height="4" fill="#fff"/>
<rect x="483" y="381" width="4" height="6" fill="#fff"/>
<rect x="485" y="388" width="1" height="4" fill="#fff"/>
<rect x="489" y="381" width="4" height="6" fill="#fff"/>
<rect x="491" y="388" width="1" height="4" fill="#fff"/>
<rect x="495" y="381" width="4" height="6" fill="#fff"/>
<rect x="497" y="388" width="1" height="4" fill="#fff"/>
<rect x="501" y="381" width="4" height="6" fill="#fff"/>
<rect x="502" y="388" width="1" height="4" fill="#fff"/>
<rect x="507" y="381" width="4" height="6" fill="#fff"/>
<rect x="508" y="388" width="1" height="4" fill="#fff"/>
<rect x="513" y="381" width="4" height="6" fill="#fff"/>
<rect x="514" y="388" width="1" height="4" fill="#fff"/>
<rect x="522" y="380" width="10" height="1" fill="#000"/>
<rect x="522" y="380" width="1" height="10" fill="#000"/>
<rect x="523" y="387" width="7" height="1" fill="#000"/>
<rect x="529" y="387" width="1" height="3" fill="#000"/>
<rect x="531" y="390" width="2" height="1" fill="#000"/>
<rect x="526" y="387" width="1" height="7" fill="#000"/>
<rect x="532" y="379" width="2" height="17" fill="#000"/>
<rect x="534" y="379" width="1" height="17" fill="#000"/>
<rect x="535" y="377" width="1" height="20" fill="#000"/>
<rect x="534" y="378" width="2" height="18" fill="#000"/>
<rect x="536" y="381" width="6" height="1" fill="#000"/>
<rect x="536" y="388" width="6" height="1" fill="#000"/>
<rect x="316" y="396" width="227" height="1" fill="#000"/>
<rect x="316" y="414" width="227" height="2" fill="#000"/>
<rect x="316" y="396" width="1" height="20" fill="#000"/>
<rect x="542" y="396" width="1" height="20" fill="#000"/>
<rect x="317" y="400" width="8" height="1" fill="#000"/>
<rect x="317" y="407" width="8" height="1" fill="#000"/>
<rect x="325" y="396" width="4" height="20" fill="#000"/>
<rect x="329" y="399" width="9" height="1" fill="#000"/>
<rect x="337" y="399" width="1" height="10" fill="#000"/>
<rect x="330" y="406" width="7" height="1" fill="#000"/>
<rect x="330" y="406" width="1" height="3" fill="#000"/>
<rect x="329" y="409" width="2" height="1" fill="#000"/>
<rect x="335" y="406" width="1" height="7" fill="#000"/>
<rect x="342" y="398" width="176" height="14" fill="#000"/>
<rect x="343" y="400" width="4" height="6" fill="#fff"/>
<rect x="344" y="407" width="1" height="4" fill="#fff"/>
<rect x="349" y="400" width="4" height="6" fill="#fff"/>
<rect x="350" y="407" width="1" height="4" fill="#fff"/>
<rect x="355" y="400" width="4" height="6" fill="#fff"/>
<rect x="356" y="407" width="1" height="4" fill="#fff"/>
<rect x="361" y="400" width="4" height="6" fill="#fff"/>
<rect x="362" y="407" width="1" height="4" fill="#fff"/>
<rect x="366" y="400" width="4" height="6" fill="#fff"/>
<rect x="368" y="407" width="1" height="4" fill="#fff"/>
<rect x="372" y="400" width="4" height="6" fill="#fff"/>
<rect x="374" y="407" width="1" height="4" fill="#fff"/>
<rect x="378" y="400" width="4" height="6" fill="#fff"/>
<rect x="380" y="407" width="1" height="4" fill="#fff"/>
<rect x="384" y="400" width="4" height="6" fill="#fff"/>
<rect x="385" y="407" width="1" height="4" fill="#fff"/>
<rect x="390" y="400" width="4" height="6" fill="#fff"/>
<rect x="391" y="407" width="1" height="4" fill="#fff"/>
<rect x="396" y="400" width="4" height="6" fill="#fff"/>
<rect x="397" y="407" width="1" height="4" fill="#fff"/>
<rect x="402" y="400" width="4" height="6" fill="#fff"/>
<rect x="403" y="407" width="1" height="4" fill="#fff"/>
<rect x="407" y="400" width="4" height="6" fill="#fff"/>
<rect x="409" y="407" width="1" height="4" fill="#fff"/>
<rect x="413" y="400" width="4" height="6" fill="#fff"/>
<rect x="415" y="407" width="1" height="4" fill="#fff"/>
<rect x="419" y="400" width="4" height="6" fill="#fff"/>
<rect x="421" y="407" width="1" height="4" fill="#fff"/>
<rect x="425" y="400" width="4" height="6" fill="#fff"/>
<rect x="426" y="407" width="1" height="4" fill="#fff"/>
<rect x="431" y="400" width="4" height="6" fill="#fff"/>
<rect x="432" y="407" width="1" height="4" fill="#fff"/>
<rect x="437" y="400" width="4" height="6" fill="#fff"/>
<rect x="438" y="407" width="1" height="4" fill="#fff"/>
<rect x="442" y="400" width="4" height="6" fill="#fff"/>
<rect x="444" y="407" width="1" height="4" fill="#fff"/>
<rect x="448" y="400" width="4" height="6" fill="#fff"/>
<rect x="450" y="407" width="1" height="4" fill="#fff"/>
<rect x="454" y="400" width="4" height="6" fill="#fff"/>
<rect x="456" y="407" width="1" height="4" fill="#fff"/>
<rect x="460" y="400" width="4" height="6" fill="#fff"/>
<rect x="462" y="407" width="1" height="4" fill="#fff"/>
<rect x="466" y="400" width="4" height="6" fill="#fff"/>
<rect x="467" y="407" width="1" height="4" fill="#fff"/>
<rect x="472" y="400" width="4" height="6" fill="#fff"/>
<rect x="473" y="407" width="1" height="4" fill="#fff"/>
<rect x="478" y="400" width="4" height="6" fill="#fff"/>
<rect x="479" y="407" width="1" height="4" fill="#fff"/>
<rect x="483" y="400" width="4" height="6" fill="#fff"/>
<rect x="485" y="407" width="1" height="4" fill="#fff"/>
<rect x="489" y="400" width="4" height="6" fill="#fff"/>
<rect x="491" y="407" width="1" height="4" fill="#fff"/>
<rect x="495" y="400" width="4" height="6" fill="#fff"/>
<rect x="497" y="407" width="1" height="4" fill="#fff"/>
<rect x="501" y="400" width="4" height="6" fill="#fff"/>
<rect x="502" y="407" width="1" height="4" fill="#fff"/>
<rect x="507" y="400" width="4" height="6" fill="#fff"/>
<rect x="508" y="407" width="1" height="4" fill="#fff"/>
<rect x="513" y="400" width="4" height="6" fill="#fff"/>
<rect x="514" y="407" width="1" height="4" fill="#fff"/>
<rect x="522" y="399" width="10" height="1" fill="#000"/>
<rect x="522" y="399" width="1" height="10" fill="#000"/>
<rect x="523" y="406" width="7" height="1" fill="#000"/>
<rect x="529" y="406" width="1" height="3" fill="#000"/>
<rect x="531" y="409" width="2" height="1" fill="#000"/>
<rect x="526" y="406" width="1" height="7" fill="#000"/>
<rect x="532" y="398" width="2" height="17" fill="#000"/>
<rect x="534" y="398" width="1" height="17" fill="#000"/>
<rect x="535" y="396" width="1" height="20" fill="#000"/>
<rect x="534" y="397" width="2" height="18" fill="#000"/>
<rect x="536" y="400" width="6" height="1" fill="#000"/>
<rect x="536" y="407" width="6" height="1" fill="#000"/>
<rect x="316" y="415" width="227" height="1" fill="#000"/>
<rect x="316" y="433" width="227" height="2" fill="#000"/>
<rect x="316" y="415" width="1" height="20" fill="#000"/>
<rect x="542" y="415" width="1" height="20" fill="#000"/>
<rect x="317" y="419" width="8" height="1" fill="#000"/>
<rect x="317" y="426" width="8" height="1" fill="#000"/>
<rect x="325" y="415" width="4" height="20" fill="#000"/>
<rect x="329" y="418" width="9" height="1" fill="#000"/>
<rect x="337" y="418" width="1" height="10" fill="#000"/>
<rect x="330" y="425" width="7" height="1" fill="#000"/>
<rect x="330" y="425" width="1" height="3" fill="#000"/>
<rect x="329" y="428" width="2" height="1" fill="#000"/>
<rect x="335" y="425" width="1" height="7" fill="#000"/>
<rect x="342" y="417" width="176" height="14" fill="#000"/>
<rect x="343" y="419" width="4" height="6" fill="#fff"/>
<rect x="344" y="426" width="1" height="4" fill="#fff"/>
<rect x="349" y="419" width="4" height="6" fill="#fff"/>
<rect x="350" y="426" width="1" height="4" fill="#fff"/>
<rect x="355" y="419" width="4" height="6" fill="#fff"/>
<rect x="356" y="426" width="1" height="4" fill="#fff"/>
<rect x="361" y="419" width="4" height="6" fill="#fff"/>
<rect x="362" y="426" width="1" height="4" fill="#fff"/>
<rect x="366" y="419" width="4" height="6" fill="#fff"/>
<rect x="368" y="426" width="1" height="4" fill="#fff"/>
<rect x="372" y="419" width="4" height="6" fill="#fff"/>
<rect x="374" y="426" width="1" height="4" fill="#fff"/>
<rect x="378" y="419" width="4" height="6" fill="#fff"/>
<rect x="380" y="426" width="1" height="4" fill="#fff"/>
<rect x="384" y="419" width="4" height="6" fill="#fff"/>
<rect x="385" y="426" width="1" height="4" fill="#fff"/>
<rect x="390" y="419" width="4" height="6" fill="#fff"/>
<rect x="391" y="426" width="1" height="4" fill="#fff"/>
<rect x="396" y="419" width="4" height="6" fill="#fff"/>
<rect x="397" y="426" width="1" height="4" fill="#fff"/>
<rect x="402" y="419" width="4" height="6" fill="#fff"/>
<rect x="403" y="426" width="1" height="4" fill="#fff"/>
<rect x="407" y="419" width="4" height="6" fill="#fff"/>
<rect x="409" y="426" width="1" height="4" fill="#fff"/>
<rect x="413" y="419" width="4" height="6" fill="#fff"/>
<rect x="415" y="426" width="1" height="4" fill="#fff"/>
<rect x="419" y="419" width="4" height="6" fill="#fff"/>
<rect x="421" y="426" width="1" height="4" fill="#fff"/>
<rect x="425" y="419" width="4" height="6" fill="#fff"/>
<rect x="426" y="426" width="1" height="4" fill="#fff"/>
<rect x="431" y="419" width="4" height="6" fill="#fff"/>
<rect x="432" y="426" width="1" height="4" fill="#fff"/>
<rect x="437" y="419" width="4" height="6" fill="#fff"/>
<rect x="438" y="426" width="1" height="4" fill="#fff"/>
<rect x="442" y="419" width="4" height="6" fill="#fff"/>
<rect x="444" y="426" width="1" height="4" fill="#fff"/>
<rect x="448" y="419" width="4" height="6" fill="#fff"/>
<rect x="450" y="426" width="1" height="4" fill="#fff"/>
<rect x="454" y="419" width="4" height="6" fill="#fff"/>
<rect x="456" y="426" width="1" height="4" fill="#fff"/>
<rect x="460" y="419" width="4" height="6" fill="#fff"/>
<rect x="462" y="426" width="1" height="4" fill="#fff"/>
<rect x="466" y="419" width="4" height="6" fill="#fff"/>
<rect x="467" y="426" width="1" height="4" fill="#fff"/>
<rect x="472" y="419" width="4" height="6" fill="#fff"/>
<rect x="473" y="426" width="1" height="4" fill="#fff"/>
<rect x="478" y="419" width="4" height="6" fill="#fff"/>
<rect x="479" y="426" width="1" height="4" fill="#fff"/>
<rect x="483" y="419" width="4" height="6" fill="#fff"/>
<rect x="485" y="426" width="1" height="4" fill="#fff"/>
<rect x="489" y="419" width="4" height="6" fill="#fff"/>
<rect x="491" y="426" width="1" height="4" fill="#fff"/>
<rect x="495" y="419" width="4" height="6" fill="#fff"/>
<rect x="497" y="426" width="1" height="4" fill="#fff"/>
<rect x="501" y="419" width="4" height="6" fill="#fff"/>
<rect x="502" y="426" width="1" height="4" fill="#fff"/>
<rect x="507" y="419" width="4" height="6" fill="#fff"/>
<rect x="508" y="426" width="1" height="4" fill="#fff"/>
<rect x="513" y="419" width="4" height="6" fill="#fff"/>
<rect x="514" y="426" width="1" height="4" fill="#fff"/>
<rect x="522" y="418" width="10" height="1" fill="#000"/>
<rect x="522" y="418" width="1" height="10" fill="#000"/>
<rect x="523" y="425" width="7" height="1" fill="#000"/>
<rect x="529" y="425" width="1" height="3" fill="#000"/>
<rect x="531" y="428" width="2" height="1" fill="#000"/>
<rect x="526" y="425" width="1" height="7" fill="#000"/>
<rect x="532" y="417" width="2" height="17" fill="#000"/>
<rect x="534" y="417" width="1" height="17" fill="#000"/>
<rect x="535" y="415" width="1" height="20" fill="#000"/>
<rect x="534" y="416" width="2" height="18" fill="#000"/>
<rect x="536" y="419" width="6" height="1" fill="#000"/>
<rect x="536" y="426" width="6" height="1" fill="#000"/>
<rect x="316" y="434" width="227" height="1" fill="#000"/>
<rect x="316" y="452" width="227" height="2" fill="#000"/>
<rect x="316" y="434" width="1" height="20" fill="#000"/>
<rect x="542" y="434" width="1" height="20" fill="#000"/>
<rect x="317" y="438" width="8" height="1" fill="#000"/>
<rect x="317" y="445" width="8" height="1" fill="#000"/>
<rect x="325" y="434" width="4" height="20" fill="#000"/>
<rect x="329" y="437" width="9" height="1" fill="#000"/>
<rect x="337" y="437" width="1" height="10" fill="#000"/>
<rect x="330" y="444" width="7" height="1" fill="#000"/>
<rect x="330" y="444" width="1" height="3" fill="#000"/>
<rect x="329" y="447" width="2" height="1" fill="#000"/>
<rect x="335" y="444" width="1" height="7" fill="#000"/>
<rect x="342" y="436" width="176" height="14" fill="#000"/>
<rect x="343" y="438" width="4" height="6" fill="#fff"/>
<rect x="344" y="445" width="1" height="4" fill="#fff"/>
<rect x="349" y="438" width="4" height="6" fill="#fff"/>
<rect x="350" y="445" width="1" height="4" fill="#fff"/>
<rect x="355" y="438" width="4" height="6" fill="#fff"/>
<rect x="356" y="445" width="1" height="4" fill="#fff"/>
<rect x="361" y="438" width="4" height="6" fill="#fff"/>
<rect x="362" y="445" width="1" height="4" fill="#fff"/>
<rect x="366" y="438" width="4" height="6" fill="#fff"/>
<rect x="368" y="445" width="1" height="4" fill="#fff"/>
<rect x="372" y="438" width="4" height="6" fill="#fff"/>
<rect x="374" y="445" width="1" height="4" fill="#fff"/>
<rect x="378" y="438" width="4" height="6" fill="#fff"/>
<rect x="380" y="445" width="1" height="4" fill="#fff"/>
<rect x="384" y="438" width="4" height="6" fill="#fff"/>
<rect x="385" y="445" width="1" height="4" fill="#fff"/>
<rect x="390" y="438" width="4" height="6" fill="#fff"/>
<rect x="391" y="445" width="1" height="4" fill="#fff"/>
<rect x="396" y="438" width="4" height="6" fill="#fff"/>
<rect x="397" y="445" width="1" height="4" fill="#fff"/>
<rect x="402" y="438" width="4" height="6" fill="#fff"/>
<rect x="403" y="445" width="1" height="4" fill="#fff"/>
<rect x="407" y="438" width="4" height="6" fill="#fff"/>
<rect x="409" y="445" width="1" height="4" fill="#fff"/>
<rect x="413" y="438" width="4" height="6" fill="#fff"/>
<rect x="415" y="445" width="1" height="4" fill="#fff"/>
<rect x="419" y="438" width="4" height="6" fill="#fff"/>
<rect x="421" y="445" width="1" height="4" fill="#fff"/>
<rect x="425" y="438" width="4" height="6" fill="#fff"/>
<rect x="426" y="445" width="1" height="4" fill="#fff"/>
<rect x="431" y="438" width="4" height="6" fill="#fff"/>
<rect x="432" y="445" width="1" height="4" fill="#fff"/>
<rect x="437" y="438" width="4" height="6" fill="#fff"/>
<rect x="438" y="445" width="1" height="4" fill="#fff"/>
<rect x="442" y="438" width="4" height="6" fill="#fff"/>
<rect x="444" y="445" width="1" height="4" fill="#fff"/>
<rect x="448" y="438" width="4" height="6" fill="#fff"/>
<rect x="450" y="445" width="1" height="4" fill="#fff"/>
<rect x="454" y="438" width="4" height="6" fill="#fff"/>
<rect x="456" y="445" width="1" height="4" fill="#fff"/>
<rect x="460" y="438" width="4" height="6" fill="#fff"/>
<rect x="462" y="445" width="1" height="4" fill="#fff"/>
<rect x="466" y="438" width="4" height="6" fill="#fff"/>
<rect x="467" y="445" width="1" height="4" fill="#fff"/>
<rect x="472" y="438" width="4" height="6" fill="#fff"/>
<rect x="473" y="445" width="1" height="4" fill="#fff"/>
<rect x="478" y="438" width="4" height="6" fill="#fff"/>
<rect x="479" y="445" width="1" height="4" fill="#fff"/>
<rect x="483" y="438" width="4" height="6" fill="#fff"/>
<rect x="485" y="445" width="1" height="4" fill="#fff"/>
<rect x="489" y="438" width="4" height="6" fill="#fff"/>
<rect x="491" y="445" width="1" height="4" fill="#fff"/>
<rect x="495" y="438" width="4" height="6" fill="#fff"/>
<rect x="497" y="445" width="1" height="4" fill="#fff"/>
<rect x="501" y="438" width="4" height="6" fill="#fff"/>
<rect x="502" y="445" width="1" height="4" fill="#fff"/>
<rect x="507" y="438" width="4" height="6" fill="#fff"/>
<rect x="508" y="445" width="1" height="4" fill="#fff"/>
<rect x="513" y="438" width="4" height="6" fill="#fff"/>
<rect x="514" y="445" width="1" height="4" fill="#fff"/>
<rect x="522" y="437" width="10" height="1" fill="#000"/>
<rect x="522" y="437" width="1" height="10" fill="#000"/>
<rect x="523" y="444" width="7" height="1" fill="#000"/>
<rect x="529" y="444" width="1" height="3" fill="#000"/>
<rect x="531" y="447" width="2" height="1" fill="#000"/>
<rect x="526" y="444" width="1" height="7" fill="#000"/>
<rect x="532" y="436" width="2" height="17" fill="#000"/>
<rect x="534" y="436" width="1" height="17" fill="#000"/>
<rect x="535" y="434" width="1" height="20" fill="#000"/>
<rect x="534" y="435" width="2" height="18" fill="#000"/>
<rect x="536" y="438" width="6" height="1" fill="#000"/>
<rect x="536" y="445" width="6" height="1" fill="#000"/>
<rect x="282" y="460" width="278" height="1" fill="#000"/>
<rect x="282" y="475" width="278" height="1" fill="#000"/>
<rect x="282" y="460" width="1" height="16" fill="#000"/>
<rect x="559" y="460" width="1" height="16" fill="#000"/>
<rect x="283" y="464" width="7" height="1" fill="#000"/>
<rect x="283" y="469" width="7" height="1" fill="#000"/>
<rect x="290" y="461" width="4" height="15" fill="#000"/>
<rect x="294" y="463" width="10" height="1" fill="#000"/>
<rect x="303" y="463" width="1" height="8" fill="#000"/>
<rect x="296" y="467" width="7" height="1" fill="#000"/>
<rect x="296" y="467" width="1" height="4" fill="#000"/>
<rect x="294" y="471" width="2" height="1" fill="#000"/>
<rect x="306" y="462" width="230" height="12" fill="#000"/>
<rect x="308" y="464" width="1" height="4" fill="#fff"/>
<rect x="311" y="464" width="1" height="4" fill="#fff"/>
<rect x="314" y="464" width="1" height="4" fill="#fff"/>
<rect x="316" y="464" width="1" height="4" fill="#fff"/>
<rect x="319" y="464" width="1" height="4" fill="#fff"/>
<rect x="322" y="464" width="1" height="4" fill="#fff"/>
<rect x="324" y="464" width="1" height="4" fill="#fff"/>
<rect x="327" y="464" width="1" height="4" fill="#fff"/>
<rect x="330" y="464" width="1" height="4" fill="#fff"/>
<rect x="333" y="464" width="1" height="4" fill="#fff"/>
<rect x="336" y="464" width="1" height="4" fill="#fff"/>
<rect x="338" y="464" width="1" height="4" fill="#fff"/>
<rect x="341" y="464" width="1" height="4" fill="#fff"/>
<rect x="344" y="464" width="1" height="4" fill="#fff"/>
<rect x="346" y="464" width="1" height="4" fill="#fff"/>
<rect x="349" y="464" width="1" height="4" fill="#fff"/>
<rect x="352" y="464" width="1" height="4" fill="#fff"/>
<rect x="355" y="464" width="1" height="4" fill="#fff"/>
<rect x="358" y="464" width="1" height="4" fill="#fff"/>
<rect x="360" y="464" width="1" height="4" fill="#fff"/>
<rect x="363" y="464" width="1" height="4" fill="#fff"/>
<rect x="366" y="464" width="1" height="4" fill="#fff"/>
<rect x="368" y="464" width="1" height="4" fill="#fff"/>
<rect x="371" y="464" width="1" height="4" fill="#fff"/>
<rect x="374" y="464" width="1" height="4" fill="#fff"/>
<rect x="377" y="464" width="1" height="4" fill="#fff"/>
<rect x="380" y="464" width="1" height="4" fill="#fff"/>
<rect x="382" y="464" width="1" height="4" fill="#fff"/>
<rect x="385" y="464" width="1" height="4" fill="#fff"/>
<rect x="388" y="464" width="1" height="4" fill="#fff"/>
<rect x="390" y="464" width="1" height="4" fill="#fff"/>
<rect x="393" y="464" width="1" height="4" fill="#fff"/>
<rect x="396" y="464" width="1" height="4" fill="#fff"/>
<rect x="399" y="464" width="1" height="4" fill="#fff"/>
<rect x="402" y="464" width="1" height="4" fill="#fff"/>
<rect x="404" y="464" width="1" height="4" fill="#fff"/>
<rect x="407" y="464" width="1" height="4" fill="#fff"/>
<rect x="410" y="464" width="1" height="4" fill="#fff"/>
<rect x="412" y="464" width="1" height="4" fill="#fff"/>
<rect x="415" y="464" width="1" height="4" fill="#fff"/>
<rect x="418" y="464" width="1" height="4" fill="#fff"/>
<rect x="421" y="464" width="1" height="4" fill="#fff"/>
<rect x="424" y="464" width="1" height="4" fill="#fff"/>
<rect x="426" y="464" width="1" height="4" fill="#fff"/>
<rect x="429" y="464" width="1" height="4" fill="#fff"/>
<rect x="432" y="464" width="1" height="4" fill="#fff"/>
<rect x="434" y="464" width="1" height="4" fill="#fff"/>
<rect x="437" y="464" width="1" height="4" fill="#fff"/>
<rect x="440" y="464" width="1" height="4" fill="#fff"/>
<rect x="443" y="464" width="1" height="4" fill="#fff"/>
<rect x="446" y="464" width="1" height="4" fill="#fff"/>
<rect x="448" y="464" width="1" height="4" fill="#fff"/>
<rect x="451" y="464" width="1" height="4" fill="#fff"/>
<rect x="454" y="464" width="1" height="4" fill="#fff"/>
<rect x="456" y="464" width="1" height="4" fill="#fff"/>
<rect x="459" y="464" width="1" height="4" fill="#fff"/>
<rect x="462" y="464" width="1" height="4" fill="#fff"/>
<rect x="465" y="464" width="1" height="4" fill="#fff"/>
<rect x="468" y="464" width="1" height="4" fill="#fff"/>
<rect x="470" y="464" width="1" height="4" fill="#fff"/>
<rect x="473" y="464" width="1" height="4" fill="#fff"/>
<rect x="476" y="464" width="1" height="4" fill="#fff"/>
<rect x="478" y="464" width="1" height="4" fill="#fff"/>
<rect x="481" y="464" width="1" height="4" fill="#fff"/>
<rect x="484" y="464" width="1" height="4" fill="#fff"/>
<rect x="487" y="464" width="1" height="4" fill="#fff"/>
<rect x="490" y="464" width="1" height="4" fill="#fff"/>
<rect x="492" y="464" width="1" height="4" fill="#fff"/>
<rect x="495" y="464" width="1" height="4" fill="#fff"/>
<rect x="498" y="464" width="1" height="4" fill="#fff"/>
<rect x="500" y="464" width="1" height="4" fill="#fff"/>
<rect x="503" y="464" width="1" height="4" fill="#fff"/>
<rect x="506" y="464" width="1" height="4" fill="#fff"/>
<rect x="509" y="464" width="1" height="4" fill="#fff"/>
<rect x="512" y="464" width="1" height="4" fill="#fff"/>
<rect x="514" y="464" width="1" height="4" fill="#fff"/>
<rect x="517" y="464" width="1" height="4" fill="#fff"/>
<rect x="520" y="464" width="1" height="4" fill="#fff"/>
<rect x="522" y="464" width="1" height="4" fill="#fff"/>
<rect x="525" y="464" width="1" height="4" fill="#fff"/>
<rect x="528" y="464" width="1" height="4" fill="#fff"/>
<rect x="531" y="464" width="1" height="4" fill="#fff"/>
<rect x="534" y="464" width="1" height="4" fill="#fff"/>
<rect x="538" y="463" width="10" height="1" fill="#000"/>
<rect x="538" y="463" width="1" height="8" fill="#000"/>
<rect x="539" y="467" width="7" height="1" fill="#000"/>
<rect x="545" y="467" width="1" height="4" fill="#000"/>
<rect x="546" y="471" width="2" height="1" fill="#000"/>
<rect x="548" y="461" width="3" height="15" fill="#000"/>
<rect x="551" y="464" width="8" height="1" fill="#000"/>
<rect x="551" y="469" width="8" height="1" fill="#000"/>
<rect x="282" y="480" width="278" height="1" fill="#000"/>
<rect x="282" y="495" width="278" height="1" fill="#000"/>
<rect x="282" y="480" width="1" height="16" fill="#000"/>
<rect x="559" y="480" width="1" height="16" fill="#000"/>
<rect x="283" y="484" width="7" height="1" fill="#000"/>
<rect x="283" y="489" width="7" height="1" fill="#000"/>
<rect x="290" y="481" width="4" height="15" fill="#000"/>
<rect x="294" y="483" width="10" height="1" fill="#000"/>
<rect x="303" y="483" width="1" height="8" fill="#000"/>
<rect x="296" y="487" width="7" height="1" fill="#000"/>
<rect x="296" y="487" width="1" height="4" fill="#000"/>
<rect x="294" y="491" width="2" height="1" fill="#000"/>
<rect x="306" y="482" width="230" height="12" fill="#000"/>
<rect x="308" y="484" width="1" height="4" fill="#fff"/>
<rect x="311" y="484" width="1" height="4" fill="#fff"/>
<rect x="314" y="484" width="1" height="4" fill="#fff"/>
<rect x="316" y="484" width="1" height="4" fill="#fff"/>
<rect x="319" y="484" width="1" height="4" fill="#fff"/>
<rect x="322" y="484" width="1" height="4" fill="#fff"/>
<rect x="324" y="484" width="1" height="4" fill="#fff"/>
<rect x="327" y="484" width="1" height="4" fill="#fff"/>
<rect x="330" y="484" width="1" height="4" fill="#fff"/>
<rect x="333" y="484" width="1" height="4" fill="#fff"/>
<rect x="336" y="484" width="1" height="4" fill="#fff"/>
<rect x="338" y="484" width="1" height="4" fill="#fff"/>
<rect x="341" y="484" width="1" height="4" fill="#fff"/>
<rect x="344" y="484" width="1" height="4" fill="#fff"/>
<rect x="346" y="484" width="1" height="4" fill="#fff"/>
<rect x="349" y="484" width="1" height="4" fill="#fff"/>
<rect x="352" y="484" width="1" height="4" fill="#fff"/>
<rect x="355" y="484" width="1" height="4" fill="#fff"/>
<rect x="358" y="484" width="1" height="4" fill="#fff"/>
<rect x="360" y="484" width="1" height="4" fill="#fff"/>
<rect x="363" y="484" width="1" height="4" fill="#fff"/>
<rect x="366" y="484" width="1" height="4" fill="#fff"/>
<rect x="368" y="484" width="1" height="4" fill="#fff"/>
<rect x="371" y="484" width="1" height="4" fill="#fff"/>
<rect x="374" y="484" width="1" height="4" fill="#fff"/>
<rect x="377" y="484" width="1" height="4" fill="#fff"/>
<rect x="380" y="484" width="1" height="4" fill="#fff"/>
<rect x="382" y="484" width="1" height="4" fill="#fff"/>
<rect x="385" y="484" width="1" height="4" fill="#fff"/>
<rect x="388" y="484" width="1" height="4" fill="#fff"/>
<rect x="390" y="484" width="1" height="4" fill="#fff"/>
<rect x="393" y="484" width="1" height="4" fill="#fff"/>
<rect x="396" y="484" width="1" height="4" fill="#fff"/>
<rect x="399" y="484" width="1" height="4" fill="#fff"/>
<rect x="402" y="484" width="1" height="4" fill="#fff"/>
<rect x="404" y="484" width="1" height="4" fill="#fff"/>
<rect x="407" y="484" width="1" height="4" fill="#fff"/>
<rect x="410" y="484" width="1" height="4" fill="#fff"/>
<rect x="412" y="484" width="1" height="4" fill="#fff"/>
<rect x="415" y="484" width="1" height="4" fill="#fff"/>
<rect x="418" y="484" width="1" height="4" fill="#fff"/>
<rect x="421" y="484" width="1" height="4" fill="#fff"/>
<rect x="424" y="484" width="1" height="4" fill="#fff"/>
<rect x="426" y="484" width="1" height="4" fill="#fff"/>
<rect x="429" y="484" width="1" height="4" fill="#fff"/>
<rect x="432" y="484" width="1" height="4" fill="#fff"/>
<rect x="434" y="484" width="1" height="4" fill="#fff"/>
<rect x="437" y="484" width="1" height="4" fill="#fff"/>
<rect x="440" y="484" width="1" height="4" fill="#fff"/>
<rect x="443" y="484" width="1" height="4" fill="#fff"/>
<rect x="446" y="484" width="1" height="4" fill="#fff"/>
<rect x="448" y="484" width="1" height="4" fill="#fff"/>
<rect x="451" y="484" width="1" height="4" fill="#fff"/>
<rect x="454" y="484" width="1" height="4" fill="#fff"/>
<rect x="456" y="484" width="1" height="4" fill="#fff"/>
<rect x="459" y="484" width="1" height="4" fill="#fff"/>
<rect x="462" y="484" width="1" height="4" fill="#fff"/>
<rect x="465" y="484" width="1" height="4" fill="#fff"/>
<rect x="468" y="484" width="1" height="4" fill="#fff"/>
<rect x="470" y="484" width="1" height="4" fill="#fff"/>
<rect x="473" y="484" width="1" height="4" fill="#fff"/>
<rect x="476" y="484" width="1" height="4" fill="#fff"/>
<rect x="478" y="484" width="1" height="4" fill="#fff"/>
<rect x="481" y="484" width="1" height="4" fill="#fff"/>
<rect x="484" y="484" width="1" height="4" fill="#fff"/>
<rect x="487" y="484" width="1" height="4" fill="#fff"/>
<rect x="490" y="484" width="1" height="4" fill="#fff"/>
<rect x="492" y="484" width="1" height="4" fill="#fff"/>
<rect x="495" y="484" width="1" height="4" fill="#fff"/>
<rect x="498" y="484" width="1" height="4" fill="#fff"/>
<rect x="500" y="484" width="1" height="4" fill="#fff"/>
<rect x="503" y="484" width="1" height="4" fill="#fff"/>
<rect x="506" y="484" width="1" height="4" fill="#fff"/>
<rect x="509" y="484" width="1" height="4" fill="#fff"/>
<rect x="512" y="484" width="1" height="4" fill="#fff"/>
<rect x="514" y="484" width="1" height="4" fill="#fff"/>
<rect x="517" y="484" width="1" height="4" fill="#fff"/>
<rect x="520" y="484" width="1" height="4" fill="#fff"/>
<rect x="522" y="484" width="1" height="4" fill="#fff"/>
<rect x="525" y="484" width="1" height="4" fill="#fff"/>
<rect x="528" y="484" width="1" height="4" fill="#fff"/>
<rect x="531" y="484" width="1" height="4" fill="#fff"/>
<rect x="534" y="484" width="1" height="4" fill="#fff"/>
<rect x="538" y="483" width="10" height="1" fill="#000"/>
<rect x="538" y="483" width="1" height="8" fill="#000"/>
<rect x="539" y="487" width="7" height="1" fill="#000"/>
<rect x="545" y="487" width="1" height="4" fill="#000"/>
<rect x="546" y="491" width="2" height="1" fill="#000"/>
<rect x="548" y="481" width="3" height="15" fill="#000"/>
<rect x="551" y="484" width="8" height="1" fill="#000"/>
<rect x="551" y="489" width="8" height="1" fill="#000"/>
<rect x="598" y="421" width="3" height="51" fill="#000"/>
<rect x="595" y="424" width="3" height="45" fill="#000"/>
<rect x="571" y="428" width="24" height="37" fill="#000"/>
<rect x="568" y="435" width="3" height="24" fill="#000"/>
<rect x="564" y="437" width="5" height="9" fill="#000"/>
<rect x="565" y="438" width="3" height="7" fill="#fff"/>
<rect x="564" y="448" width="5" height="9" fill="#000"/>
<rect x="565" y="449" width="3" height="7" fill="#fff"/>
<rect x="570" y="444" width="1" height="5" fill="#fff"/>
<rect x="459" y="507" width="112" height="24" fill="#000"/>
<rect x="460" y="508" width="110" height="22" fill="#fff"/>
<rect x="461" y="511" width="7" height="2" fill="#000"/>
<rect x="463" y="510" width="3" height="4" fill="#000"/>
<rect x="461" y="517" width="7" height="3" fill="#000"/>
<rect x="465" y="521" width="7" height="7" fill="#000"/>
<rect x="466" y="522" width="5" height="5" fill="#fff"/>
<rect x="470" y="511" width="7" height="2" fill="#000"/>
<rect x="472" y="510" width="3" height="4" fill="#000"/>
<rect x="470" y="517" width="7" height="3" fill="#000"/>
<rect x="474" y="521" width="7" height="7" fill="#000"/>
<rect x="475" y="522" width="5" height="5" fill="#fff"/>
<rect x="479" y="511" width="7" height="2" fill="#000"/>
<rect x="481" y="510" width="3" height="4" fill="#000"/>
<rect x="479" y="517" width="7" height="3" fill="#000"/>
<rect x="483" y="521" width="7" height="7" fill="#000"/>
<rect x="484" y="522" width="5" height="5" fill="#fff"/>
<rect x="488" y="511" width="7" height="2" fill="#000"/>
<rect x="490" y="510" width="3" height="4" fill="#000"/>
<rect x="488" y="517" width="7" height="3" fill="#000"/>
<rect x="492" y="521" width="7" height="7" fill="#000"/>
<rect x="493" y="522" width="5" height="5" fill="#fff"/>
<rect x="497" y="511" width="7" height="2" fill="#000"/>
<rect x="499" y="510" width="3" height="4" fill="#000"/>
<rect x="497" y="517" width="7" height="3" fill="#000"/>
<rect x="501" y="521" width="7" height="7" fill="#000"/>
<rect x="502" y="522" width="5" height="5" fill="#fff"/>
<rect x="506" y="511" width="7" height="2" fill="#000"/>
<rect x="508" y="510" width="3" height="4" fill="#000"/>
<rect x="506" y="517" width="7" height="3" fill="#000"/>
<rect x="510" y="521" width="7" height="7" fill="#000"/>
<rect x="511" y="522" width="5" height="5" fill="#fff"/>
<rect x="515" y="511" width="7" height="2" fill="#000"/>
<rect x="517" y="510" width="3" height="4" fill="#000"/>
<rect x="515" y="517" width="7" height="3" fill="#000"/>
<rect x="519" y="521" width="7" height="7" fill="#000"/>
<rect x="520" y="522" width="5" height="5" fill="#fff"/>
<rect x="524" y="511" width="7" height="2" fill="#000"/>
<rect x="526" y="510" width="3" height="4" fill="#000"/>
<rect x="524" y="517" width="7" height="3" fill="#000"/>
<rect x="528" y="521" width="7" height="7" fill="#000"/>
<rect x="529" y="522" width="5" height="5" fill="#fff"/>
<rect x="533" y="511" width="7" height="2" fill="#000"/>
<rect x="535" y="510" width="3" height="4" fill="#000"/>
<rect x="533" y="517" width="7" height="3" fill="#000"/>
<rect x="537" y="521" width="7" height="7" fill="#000"/>
<rect x="538" y="522" width="5" height="5" fill="#fff"/>
<rect x="542" y="511" width="7" height="2" fill="#000"/>
<rect x="544" y="510" width="3" height="4" fill="#000"/>
<rect x="542" y="517" width="7" height="3" fill="#000"/>
<rect x="546" y="521" width="7" height="7" fill="#000"/>
<rect x="547" y="522" width="5" height="5" fill="#fff"/>
<rect x="550" y="511" width="7" height="2" fill="#000"/>
<rect x="552" y="510" width="3" height="4" fill="#000"/>
<rect x="550" y="517" width="7" height="3" fill="#000"/>
<rect x="554" y="521" width="7" height="7" fill="#000"/>
<rect x="555" y="522" width="5" height="5" fill="#fff"/>
<rect x="559" y="511" width="7" height="2" fill="#000"/>
<rect x="561" y="510" width="3" height="4" fill="#000"/>
<rect x="559" y="517" width="7" height="3" fill="#000"/>
<rect x="563" y="521" width="7" height="7" fill="#000"/>
<rect x="564" y="522" width="5" height="5" fill="#fff"/>
<rect x="460" y="522" width="2" height="5" fill="#000"/>
<rect x="460" y="523" width="1" height="3" fill="#fff"/>
<rect x="319" y="253" width="177" height="19" fill="#000"/>
<rect x="326" y="259" width="33" height="5" fill="#fff"/>
<rect x="369" y="259" width="120" height="5" fill="#fff"/>
<rect x="319" y="297" width="177" height="19" fill="#000"/>
<rect x="326" y="303" width="33" height="5" fill="#fff"/>
<rect x="369" y="303" width="120" height="5" fill="#fff"/>
<rect x="319" y="342" width="177" height="19" fill="#000"/>
<rect x="326" y="348" width="33" height="5" fill="#fff"/>
<rect x="369" y="348" width="120" height="5" fill="#fff"/>
<rect x="13" y="29" width="14" height="7" fill="#000"/>
<rect x="14" y="30" width="1" height="5" fill="#fff"/>
<rect x="20" y="30" width="1" height="5" fill="#fff"/>
<rect x="25" y="30" width="1" height="5" fill="#fff"/>
<rect x="32" y="29" width="13" height="7" fill="#000"/>
<rect x="38" y="30" width="1" height="5" fill="#fff"/>
<rect x="49" y="29" width="26" height="7" fill="#000"/>
<rect x="50" y="30" width="24" height="1" fill="#fff"/>
<rect x="50" y="30" width="1" height="5" fill="#fff"/>
<rect x="56" y="30" width="1" height="5" fill="#fff"/>
<rect x="62" y="30" width="1" height="5" fill="#fff"/>
<rect x="68" y="30" width="1" height="5" fill="#fff"/>
<rect x="73" y="30" width="1" height="5" fill="#fff"/>
<rect x="50" y="30" width="6" height="5" fill="#fff"/>
<rect x="51" y="31" width="4" height="3" fill="#000"/>
<rect x="52" y="32" width="2" height="1" fill="#fff"/>
<rect x="78" y="29" width="31" height="7" fill="#000"/>
<rect x="79" y="30" width="29" height="1" fill="#fff"/>
<rect x="79" y="30" width="1" height="5" fill="#fff"/>
<rect x="85" y="30" width="1" height="5" fill="#fff"/>
<rect x="91" y="30" width="1" height="5" fill="#fff"/>
<rect x="96" y="30" width="1" height="5" fill="#fff"/>
<rect x="102" y="30" width="1" height="5" fill="#fff"/>
<rect x="107" y="30" width="1" height="5" fill="#fff"/>
<rect x="79" y="30" width="6" height="5" fill="#fff"/>
<rect x="80" y="31" width="4" height="3" fill="#000"/>
<rect x="81" y="32" width="2" height="1" fill="#fff"/>
<rect x="111" y="29" width="14" height="7" fill="#000"/>
<rect x="112" y="30" width="1" height="5" fill="#fff"/>
<rect x="118" y="30" width="1" height="5" fill="#fff"/>
<rect x="123" y="30" width="1" height="5" fill="#fff"/>
<rect x="10" y="99" width="13" height="7" fill="#000"/>
<rect x="16" y="100" width="1" height="5" fill="#fff"/>
<rect x="93" y="148" width="27" height="7" fill="#000"/>
<rect x="94" y="153" width="25" height="1" fill="#fff"/>
<rect x="94" y="149" width="1" height="5" fill="#fff"/>
<rect x="100" y="149" width="1" height="5" fill="#fff"/>
<rect x="106" y="149" width="1" height="5" fill="#fff"/>
<rect x="113" y="149" width="1" height="5" fill="#fff"/>
<rect x="118" y="149" width="1" height="5" fill="#fff"/>
<rect x="329" y="190" width="25" height="7" fill="#000"/>
<rect x="330" y="195" width="23" height="1" fill="#fff"/>
<rect x="330" y="191" width="1" height="5" fill="#fff"/>
<rect x="336" y="191" width="1" height="5" fill="#fff"/>
<rect x="342" y="191" width="1" height="5" fill="#fff"/>
<rect x="347" y="191" width="1" height="5" fill="#fff"/>
<rect x="352" y="191" width="1" height="5" fill="#fff"/>
<rect x="330" y="191" width="6" height="5" fill="#fff"/>
<rect x="331" y="192" width="4" height="3" fill="#000"/>
<rect x="332" y="193" width="2" height="1" fill="#fff"/>
<rect x="382" y="195" width="26" height="7" fill="#000"/>
<rect x="383" y="196" width="24" height="1" fill="#fff"/>
<rect x="383" y="196" width="1" height="5" fill="#fff"/>
<rect x="389" y="196" width="1" height="5" fill="#fff"/>
<rect x="395" y="196" width="1" height="5" fill="#fff"/>
<rect x="401" y="196" width="1" height="5" fill="#fff"/>
<rect x="406" y="196" width="1" height="5" fill="#fff"/>
<rect x="383" y="196" width="6" height="5" fill="#fff"/>
<rect x="384" y="197" width="4" height="3" fill="#000"/>
<rect x="385" y="198" width="2" height="1" fill="#fff"/>
<rect x="288" y="262" width="20" height="7" fill="#000"/>
<rect x="289" y="267" width="18" height="1" fill="#fff"/>
<rect x="289" y="263" width="1" height="5" fill="#fff"/>
<rect x="295" y="263" width="1" height="5" fill="#fff"/>
<rect x="301" y="263" width="1" height="5" fill="#fff"/>
<rect x="306" y="263" width="1" height="5" fill="#fff"/>
<rect x="289" y="263" width="6" height="5" fill="#fff"/>
<rect x="290" y="264" width="4" height="3" fill="#000"/>
<rect x="291" y="265" width="2" height="1" fill="#fff"/>
<rect x="558" y="303" width="20" height="7" fill="#000"/>
<rect x="559" y="304" width="1" height="5" fill="#fff"/>
<rect x="565" y="304" width="1" height="5" fill="#fff"/>
<rect x="570" y="304" width="1" height="5" fill="#fff"/>
<rect x="576" y="304" width="1" height="5" fill="#fff"/>
<rect x="561" y="305" width="3" height="3" fill="#fff"/>
<rect x="551" y="324" width="26" height="7" fill="#000"/>
<rect x="552" y="325" width="1" height="5" fill="#fff"/>
<rect x="558" y="325" width="1" height="5" fill="#fff"/>
<rect x="564" y="325" width="1" height="5" fill="#fff"/>
<rect x="569" y="325" width="1" height="5" fill="#fff"/>
<rect x="575" y="325" width="1" height="5" fill="#fff"/>
<rect x="554" y="326" width="2" height="3" fill="#fff"/>
<rect x="517" y="347" width="8" height="14" fill="#000"/>
<rect x="518" y="348" width="1" height="12" fill="#fff"/>
<rect x="518" y="348" width="5" height="1" fill="#fff"/>
<rect x="522" y="348" width="1" height="12" fill="#fff"/>
<rect x="518" y="354" width="5" height="1" fill="#fff"/>
<rect x="518" y="359" width="5" height="1" fill="#fff"/>
<rect x="10" y="185" width="14" height="19" fill="#000"/>
<rect x="11" y="186" width="1" height="5" fill="#fff"/>
<rect x="11" y="192" width="1" height="5" fill="#fff"/>
<rect x="11" y="198" width="1" height="4" fill="#fff"/>
<rect x="16" y="186" width="2" height="5" fill="#fff"/>
<rect x="16" y="192" width="2" height="5" fill="#fff"/>
<rect x="16" y="198" width="2" height="4" fill="#fff"/>
<rect x="22" y="186" width="1" height="5" fill="#fff"/>
<rect x="22" y="192" width="1" height="5" fill="#fff"/>
<rect x="22" y="198" width="1" height="4" fill="#fff"/>
<rect x="11" y="202" width="12" height="1" fill="#fff"/>
<rect x="132" y="324" width="20" height="7" fill="#000"/>
<rect x="133" y="325" width="1" height="5" fill="#fff"/>
<rect x="139" y="325" width="1" height="5" fill="#fff"/>
<rect x="145" y="325" width="1" height="5" fill="#fff"/>
<rect x="150" y="325" width="1" height="5" fill="#fff"/>
<rect x="134" y="325" width="5" height="5" fill="#fff"/>
<rect x="135" y="326" width="3" height="3" fill="#000"/>
<rect x="136" y="327" width="1" height="1" fill="#fff"/>
<rect x="151" y="317" width="7" height="14" fill="#000"/>
<rect x="152" y="318" width="5" height="1" fill="#fff"/>
<rect x="156" y="318" width="1" height="12" fill="#fff"/>
<rect x="152" y="323" width="5" height="1" fill="#fff"/>
<rect x="152" y="329" width="5" height="1" fill="#fff"/>
<rect x="181" y="317" width="7" height="14" fill="#000"/>
<rect x="182" y="318" width="5" height="1" fill="#fff"/>
<rect x="182" y="318" width="1" height="12" fill="#fff"/>
<rect x="182" y="323" width="5" height="1" fill="#fff"/>
<rect x="182" y="329" width="5" height="1" fill="#fff"/>
<rect x="186" y="367" width="14" height="13" fill="#000"/>
<rect x="187" y="368" width="1" height="11" fill="#fff"/>
<rect x="192" y="368" width="1" height="11" fill="#fff"/>
<rect x="198" y="368" width="1" height="11" fill="#fff"/>
<rect x="187" y="373" width="1" height="1" fill="#fff"/>
<rect x="187" y="378" width="12" height="1" fill="#fff"/>
<rect x="170" y="380" width="7" height="14" fill="#000"/>
<rect x="171" y="381" width="5" height="1" fill="#fff"/>
<rect x="171" y="387" width="5" height="1" fill="#fff"/>
<rect x="171" y="392" width="5" height="1" fill="#fff"/>
<rect x="152" y="413" width="7" height="28" fill="#000"/>
<rect x="158" y="409" width="8" height="62" fill="#000"/>
<rect x="153" y="414" width="5" height="1" fill="#fff"/>
<rect x="153" y="420" width="5" height="1" fill="#fff"/>
<rect x="153" y="427" width="5" height="1" fill="#fff"/>
<rect x="153" y="434" width="5" height="1" fill="#fff"/>
<rect x="153" y="414" width="1" height="26" fill="#fff"/>
<rect x="159" y="410" width="6" height="1" fill="#fff"/>
<rect x="159" y="416" width="6" height="1" fill="#fff"/>
<rect x="159" y="422" width="6" height="1" fill="#fff"/>
<rect x="159" y="428" width="6" height="1" fill="#fff"/>
<rect x="159" y="434" width="6" height="1" fill="#fff"/>
<rect x="159" y="440" width="6" height="1" fill="#fff"/>
<rect x="159" y="446" width="6" height="1" fill="#fff"/>
<rect x="159" y="452" width="6" height="1" fill="#fff"/>
<rect x="159" y="458" width="6" height="1" fill="#fff"/>
<rect x="159" y="464" width="6" height="1" fill="#fff"/>
<rect x="159" y="469" width="6" height="1" fill="#fff"/>
<rect x="159" y="410" width="1" height="60" fill="#fff"/>
<rect x="161" y="412" width="2" height="2" fill="#fff"/>
<rect x="161" y="430" width="2" height="2" fill="#fff"/>
<rect x="161" y="448" width="2" height="2" fill="#fff"/>
<rect x="165" y="410" width="1" height="54" fill="#fff"/>
<rect x="152" y="475" width="13" height="19" fill="#000"/>
<rect x="153" y="476" width="11" height="1" fill="#fff"/>
<rect x="153" y="482" width="11" height="1" fill="#fff"/>
<rect x="153" y="488" width="11" height="1" fill="#fff"/>
<rect x="153" y="493" width="11" height="1" fill="#fff"/>
<rect x="153" y="476" width="1" height="17" fill="#fff"/>
<rect x="158" y="476" width="1" height="17" fill="#fff"/>
<rect x="163" y="476" width="1" height="17" fill="#fff"/>
<rect x="155" y="478" width="2" height="2" fill="#000"/>
<rect x="252" y="518" width="32" height="7" fill="#000"/>
<rect x="253" y="519" width="1" height="5" fill="#fff"/>
<rect x="258" y="519" width="1" height="5" fill="#fff"/>
<rect x="265" y="519" width="1" height="5" fill="#fff"/>
<rect x="270" y="519" width="1" height="5" fill="#fff"/>
<rect x="276" y="519" width="1" height="5" fill="#fff"/>
<rect x="282" y="519" width="1" height="5" fill="#fff"/>
<rect x="267" y="520" width="3" height="3" fill="#fff"/>
<rect x="351" y="507" width="7" height="19" fill="#000"/>
<rect x="352" y="508" width="5" height="1" fill="#fff"/>
<rect x="352" y="508" width="1" height="10" fill="#fff"/>
<rect x="356" y="508" width="1" height="10" fill="#fff"/>
<rect x="352" y="517" width="5" height="1" fill="#fff"/>
<rect x="354" y="510" width="1" height="2" fill="#fff"/>
<rect x="84" y="252" width="7" height="19" fill="#000"/>
<rect x="90" y="252" width="7" height="26" fill="#000"/>
<rect x="86" y="254" width="3" height="3" fill="#fff"/>
<rect x="85" y="258" width="5" height="1" fill="#fff"/>
<rect x="91" y="258" width="5" height="1" fill="#fff"/>
<rect x="85" y="264" width="5" height="1" fill="#fff"/>
<rect x="91" y="265" width="5" height="1" fill="#fff"/>
<rect x="91" y="271" width="5" height="1" fill="#fff"/>
<rect x="91" y="276" width="5" height="1" fill="#fff"/>
<polygon points="51,3 88,3 90,5 90,19 88,21 51,21 49,19 49,5" fill="#000" shape-rendering="geometricPrecision"/>
<polygon points="52,5 87,5 88,6 88,17 87,18 52,18 51,17 51,6" fill="#fff" shape-rendering="geometricPrecision"/>
<text transform="translate(70.125,16.1) scale(0.75,1)" font-size="13" letter-spacing="3.0" text-anchor="middle">JP27</text>
<polygon points="116,5 146,5 148,7 148,20 146,22 116,22 114,20 114,7" fill="#000" shape-rendering="geometricPrecision"/>
<polygon points="117,7 145,7 146,8 146,18 145,19 117,19 116,18 116,8" fill="#fff" shape-rendering="geometricPrecision"/>
<text transform="translate(131.625,17.6) scale(0.75,1)" font-size="13" letter-spacing="3.0" text-anchor="middle">J16</text>
<polygon points="141,25 163,25 165,27 165,41 163,43 141,43 139,41 139,27" fill="#000" shape-rendering="geometricPrecision"/>
<polygon points="142,27 162,27 163,28 163,39 162,40 142,40 141,39 141,28" fill="#fff" shape-rendering="geometricPrecision"/>
<text transform="translate(152.625,38.1) scale(0.75,1)" font-size="13" letter-spacing="3.0" text-anchor="middle">S1</text>
<polygon points="27,43 64,43 66,45 66,60 64,62 27,62 25,60 25,45" fill="#000" shape-rendering="geometricPrecision"/>
<polygon points="28,45 63,45 64,46 64,58 63,59 28,59 27,58 27,46" fill="#fff" shape-rendering="geometricPrecision"/>
<text transform="translate(46.125,56.6) scale(0.75,1)" font-size="13" letter-spacing="3.0" text-anchor="middle">JP28</text>
<polygon points="77,43 113,43 115,45 115,58 113,60 77,60 75,58 75,45" fill="#000" shape-rendering="geometricPrecision"/>
<polygon points="78,45 112,45 113,46 113,56 112,57 78,57 77,56 77,46" fill="#fff" shape-rendering="geometricPrecision"/>
<text transform="translate(95.625,55.6) scale(0.75,1)" font-size="13" letter-spacing="3.0" text-anchor="middle">JP25</text>
<polygon points="40,94 78,94 80,96 80,111 78,113 40,113 38,111 38,96" fill="#000" shape-rendering="geometricPrecision"/>
<polygon points="41,96 77,96 78,97 78,109 77,110 41,110 40,109 40,97" fill="#fff" shape-rendering="geometricPrecision"/>
<text transform="translate(59.625,107.6) scale(0.75,1)" font-size="13" letter-spacing="3.0" text-anchor="middle">JP21</text>
<polygon points="39,141 77,141 79,143 79,157 77,159 39,159 37,157 37,143" fill="#000" shape-rendering="geometricPrecision"/>
<polygon points="40,143 76,143 77,144 77,155 76,156 40,156 39,155 39,144" fill="#fff" shape-rendering="geometricPrecision"/>
<text transform="translate(58.625,154.1) scale(0.75,1)" font-size="13" letter-spacing="3.0" text-anchor="middle">JP19</text>
<polygon points="135,142 173,142 175,144 175,157 173,159 135,159 133,157 133,144" fill="#000" shape-rendering="geometricPrecision"/>
<polygon points="136,144 172,144 173,145 173,155 172,156 136,156 135,155 135,145" fill="#fff" shape-rendering="geometricPrecision"/>
<text transform="translate(154.625,154.6) scale(0.75,1)" font-size="13" letter-spacing="3.0" text-anchor="middle">JP18</text>
<polygon points="40,185 77,185 79,187 79,202 77,204 40,204 38,202 38,187" fill="#000" shape-rendering="geometricPrecision"/>
<polygon points="41,187 76,187 77,188 77,200 76,201 41,201 40,200 40,188" fill="#fff" shape-rendering="geometricPrecision"/>
<text transform="translate(59.125,198.6) scale(0.75,1)" font-size="13" letter-spacing="3.0" text-anchor="middle">JP31</text>
<polygon points="49,227 86,227 88,229 88,242 86,244 49,244 47,242 47,229" fill="#000" shape-rendering="geometricPrecision"/>
<polygon points="50,229 85,229 86,230 86,240 85,241 50,241 49,240 49,230" fill="#fff" shape-rendering="geometricPrecision"/>
<text transform="translate(68.125,239.6) scale(0.75,1)" font-size="13" letter-spacing="3.0" text-anchor="middle">JP22</text>
<polygon points="31,253 69,253 71,255 71,268 69,270 31,270 29,268 29,255" fill="#000" shape-rendering="geometricPrecision"/>
<polygon points="32,255 68,255 69,256 69,266 68,267 32,267 31,266 31,256" fill="#fff" shape-rendering="geometricPrecision"/>
<text transform="translate(50.625,265.6) scale(0.75,1)" font-size="13" letter-spacing="3.0" text-anchor="middle">JP23</text>
<polygon points="47,286 84,286 86,288 86,302 84,304 47,304 45,302 45,288" fill="#000" shape-rendering="geometricPrecision"/>
<polygon points="48,288 83,288 84,289 84,300 83,301 48,301 47,300 47,289" fill="#fff" shape-rendering="geometricPrecision"/>
<text transform="translate(66.125,299.1) scale(0.75,1)" font-size="13" letter-spacing="3.0" text-anchor="middle">JP24</text>
<polygon points="163,292 200,292 202,294 202,308 200,310 163,310 161,308 161,294" fill="#000" shape-rendering="geometricPrecision"/>
<polygon points="164,294 199,294 200,295 200,306 199,307 164,307 163,306 163,295" fill="#fff" shape-rendering="geometricPrecision"/>
<text transform="translate(182.125,305.1) scale(0.75,1)" font-size="13" letter-spacing="3.0" text-anchor="middle">JP17</text>
<polygon points="155,339 192,339 194,341 194,355 192,357 155,357 153,355 153,341" fill="#000" shape-rendering="geometricPrecision"/>
<polygon points="156,341 191,341 192,342 192,353 191,354 156,354 155,353 155,342" fill="#fff" shape-rendering="geometricPrecision"/>
<text transform="translate(174.125,352.1) scale(0.75,1)" font-size="13" letter-spacing="3.0" text-anchor="middle">JP20</text>
<polygon points="205,316 241,316 243,318 243,331 241,333 205,333 203,331 203,318" fill="#000" shape-rendering="geometricPrecision"/>
<polygon points="206,318 240,318 241,319 241,329 240,330 206,330 205,329 205,319" fill="#fff" shape-rendering="geometricPrecision"/>
<text transform="translate(223.625,328.6) scale(0.75,1)" font-size="13" letter-spacing="3.0" text-anchor="middle">JP13</text>
<polygon points="209,346 246,346 248,348 248,360 246,362 209,362 207,360 207,348" fill="#000" shape-rendering="geometricPrecision"/>
<polygon points="210,348 245,348 246,349 246,358 245,359 210,359 209,358 209,349" fill="#fff" shape-rendering="geometricPrecision"/>
<text transform="translate(228.125,358.1) scale(0.75,1)" font-size="13" letter-spacing="3.0" text-anchor="middle">JP38</text>
<polygon points="216,368 253,368 255,370 255,383 253,385 216,385 214,383 214,370" fill="#000" shape-rendering="geometricPrecision"/>
<polygon points="217,370 252,370 253,371 253,381 252,382 217,382 216,381 216,371" fill="#fff" shape-rendering="geometricPrecision"/>
<text transform="translate(235.125,380.6) scale(0.75,1)" font-size="13" letter-spacing="3.0" text-anchor="middle">JP10</text>
<polygon points="116,378 154,378 156,380 156,393 154,395 116,395 114,393 114,380" fill="#000" shape-rendering="geometricPrecision"/>
<polygon points="117,380 153,380 154,381 154,391 153,392 117,392 116,391 116,381" fill="#fff" shape-rendering="geometricPrecision"/>
<text transform="translate(135.625,390.6) scale(0.75,1)" font-size="13" letter-spacing="3.0" text-anchor="middle">JP11</text>
<polygon points="175,394 211,394 213,396 213,409 211,411 175,411 173,409 173,396" fill="#000" shape-rendering="geometricPrecision"/>
<polygon points="176,396 210,396 211,397 211,407 210,408 176,408 175,407 175,397" fill="#fff" shape-rendering="geometricPrecision"/>
<text transform="translate(193.625,406.6) scale(0.75,1)" font-size="13" letter-spacing="3.0" text-anchor="middle">JP12</text>
<polygon points="182,428 217,428 219,430 219,442 217,444 182,444 180,442 180,430" fill="#000" shape-rendering="geometricPrecision"/>
<polygon points="183,430 216,430 217,431 217,440 216,441 183,441 182,440 182,431" fill="#fff" shape-rendering="geometricPrecision"/>
<text transform="translate(200.125,440.1) scale(0.75,1)" font-size="13" letter-spacing="3.0" text-anchor="middle">JP14</text>
<polygon points="174,472 212,472 214,474 214,488 212,490 174,490 172,488 172,474" fill="#000" shape-rendering="geometricPrecision"/>
<polygon points="175,474 211,474 212,475 212,486 211,487 175,487 174,486 174,475" fill="#fff" shape-rendering="geometricPrecision"/>
<text transform="translate(193.625,485.1) scale(0.75,1)" font-size="13" letter-spacing="3.0" text-anchor="middle">JP15</text>
<polygon points="140,511 176,511 178,513 178,526 176,528 140,528 138,526 138,513" fill="#000" shape-rendering="geometricPrecision"/>
<polygon points="141,513 175,513 176,514 176,524 175,525 141,525 140,524 140,514" fill="#fff" shape-rendering="geometricPrecision"/>
<text transform="translate(158.625,523.6) scale(0.75,1)" font-size="13" letter-spacing="3.0" text-anchor="middle">JP16</text>
<polygon points="204,513 236,513 238,515 238,528 236,530 204,530 202,528 202,515" fill="#000" shape-rendering="geometricPrecision"/>
<polygon points="205,515 235,515 236,516 236,526 235,527 205,527 204,526 204,516" fill="#fff" shape-rendering="geometricPrecision"/>
<text transform="translate(220.625,525.6) scale(0.75,1)" font-size="13" letter-spacing="3.0" text-anchor="middle">JP8</text>
<polygon points="239,532 268,532 270,534 270,548 268,550 239,550 237,548 237,534" fill="#000" shape-rendering="geometricPrecision"/>
<polygon points="240,534 267,534 268,535 268,546 267,547 240,547 239,546 239,535" fill="#fff" shape-rendering="geometricPrecision"/>
<text transform="translate(254.125,545.1) scale(0.75,1)" font-size="13" letter-spacing="3.0" text-anchor="middle">JP7</text>
<polygon points="297,506 333,506 335,508 335,523 333,525 297,525 295,523 295,508" fill="#000" shape-rendering="geometricPrecision"/>
<polygon points="298,508 332,508 333,509 333,521 332,522 298,522 297,521 297,509" fill="#fff" shape-rendering="geometricPrecision"/>
<text transform="translate(315.625,519.6) scale(0.75,1)" font-size="13" letter-spacing="3.0" text-anchor="middle">JP45</text>
<polygon points="274,184 312,184 314,186 314,201 312,203 274,203 272,201 272,186" fill="#000" shape-rendering="geometricPrecision"/>
<polygon points="275,186 311,186 312,187 312,199 311,200 275,200 274,199 274,187" fill="#fff" shape-rendering="geometricPrecision"/>
<text transform="translate(293.625,197.6) scale(0.75,1)" font-size="13" letter-spacing="3.0" text-anchor="middle">JP44</text>
<polygon points="424,190 461,190 463,192 463,204 461,206 424,206 422,204 422,192" fill="#000" shape-rendering="geometricPrecision"/>
<polygon points="425,192 460,192 461,193 461,202 460,203 425,203 424,202 424,193" fill="#fff" shape-rendering="geometricPrecision"/>
<text transform="translate(443.125,202.1) scale(0.75,1)" font-size="13" letter-spacing="3.0" text-anchor="middle">JP50</text>
<polygon points="316,272 347,272 349,274 349,289 347,291 316,291 314,289 314,274" fill="#000" shape-rendering="geometricPrecision"/>
<polygon points="317,274 346,274 347,275 347,287 346,288 317,288 316,287 316,275" fill="#fff" shape-rendering="geometricPrecision"/>
<text transform="translate(332.125,285.6) scale(0.75,1)" font-size="13" letter-spacing="3.0" text-anchor="middle">JP4</text>
<polygon points="510,297 542,297 544,299 544,314 542,316 510,316 508,314 508,299" fill="#000" shape-rendering="geometricPrecision"/>
<polygon points="511,299 541,299 542,300 542,312 541,313 511,313 510,312 510,300" fill="#fff" shape-rendering="geometricPrecision"/>
<text transform="translate(526.625,310.6) scale(0.75,1)" font-size="13" letter-spacing="3.0" text-anchor="middle">JP2</text>
<polygon points="513,318 535,318 537,320 537,334 535,336 513,336 511,334 511,320" fill="#000" shape-rendering="geometricPrecision"/>
<polygon points="514,320 534,320 535,321 535,332 534,333 514,333 513,332 513,321" fill="#fff" shape-rendering="geometricPrecision"/>
<text transform="translate(524.625,331.1) scale(0.75,1)" font-size="13" letter-spacing="3.0" text-anchor="middle">J2</text>
<polygon points="539,345 572,345 574,347 574,362 572,364 539,364 537,362 537,347" fill="#000" shape-rendering="geometricPrecision"/>
<polygon points="540,347 571,347 572,348 572,360 571,361 540,361 539,360 539,348" fill="#fff" shape-rendering="geometricPrecision"/>
<text transform="translate(556.125,358.6) scale(0.75,1)" font-size="13" letter-spacing="3.0" text-anchor="middle">JP3</text>
<polygon points="206,448 234,448 236,450 236,463 234,465 206,465 204,463 204,450" fill="#000" shape-rendering="geometricPrecision"/>
<polygon points="207,450 233,450 234,451 234,461 233,462 207,462 206,461 206,451" fill="#fff" shape-rendering="geometricPrecision"/>
<text transform="translate(220.625,460.6) scale(0.75,1)" font-size="13" letter-spacing="3.0" text-anchor="middle">CPU</text>
<polygon points="98,286 127,286 129,288 129,301 127,303 98,303 96,301 96,288" fill="#000" shape-rendering="geometricPrecision"/>
<polygon points="99,288 126,288 127,289 127,299 126,300 99,300 98,299 98,289" fill="#fff" shape-rendering="geometricPrecision"/>
<text transform="translate(113.125,298.6) scale(0.75,1)" font-size="13" letter-spacing="3.0" text-anchor="middle">TAG</text>
<polygon points="101,406 138,406 140,408 140,422 138,424 101,424 99,422 99,408" fill="#000" shape-rendering="geometricPrecision"/>
<polygon points="102,408 137,408 138,409 138,420 137,421 102,421 101,420 101,409" fill="#fff" shape-rendering="geometricPrecision"/>
<text transform="translate(120.125,419.1) scale(0.75,1)" font-size="13" letter-spacing="3.0" text-anchor="middle">JP37</text>
<polygon points="101,427 138,427 140,429 140,441 138,443 101,443 99,441 99,429" fill="#000" shape-rendering="geometricPrecision"/>
<polygon points="102,429 137,429 138,430 138,439 137,440 102,440 101,439 101,430" fill="#fff" shape-rendering="geometricPrecision"/>
<text transform="translate(120.125,439.1) scale(0.75,1)" font-size="13" letter-spacing="3.0" text-anchor="middle">JP36</text>
<polygon points="402,406 457,406 459,408 459,422 457,424 402,424 400,422 400,408" fill="#000" shape-rendering="geometricPrecision"/>
<polygon points="403,408 456,408 457,409 457,420 456,421 403,421 402,420 402,409" fill="#fff" shape-rendering="geometricPrecision"/>
<text transform="translate(430.125,419.1) scale(0.75,1)" font-size="13" letter-spacing="3.0" text-anchor="middle">BANK 0</text>
<polygon points="393,458 449,458 451,460 451,474 449,476 393,476 391,474 391,460" fill="#000" shape-rendering="geometricPrecision"/>
<polygon points="394,460 448,460 449,461 449,472 448,473 394,473 393,472 393,461" fill="#fff" shape-rendering="geometricPrecision"/>
<text transform="translate(421.625,471.1) scale(0.75,1)" font-size="13" letter-spacing="3.0" text-anchor="middle">BANK 1</text>
<polygon points="393,478 449,478 451,480 451,495 449,497 393,497 391,495 391,480" fill="#000" shape-rendering="geometricPrecision"/>
<polygon points="394,480 448,480 449,481 449,493 448,494 394,494 393,493 393,481" fill="#fff" shape-rendering="geometricPrecision"/>
<text transform="translate(421.625,491.6) scale(0.75,1)" font-size="13" letter-spacing="3.0" text-anchor="middle">BANK 2</text>
<rect x="102" y="121" width="31" height="16" rx="2" fill="#000" shape-rendering="geometricPrecision"/>
<rect x="103" y="122" width="29" height="14" rx="1.5" fill="#fff" shape-rendering="geometricPrecision"/>
<text transform="translate(118.625,133.6) scale(0.75,1)" font-size="13" letter-spacing="3.0" text-anchor="middle">SL1</text>
<rect x="102" y="165" width="31" height="15" rx="2" fill="#000" shape-rendering="geometricPrecision"/>
<rect x="103" y="166" width="29" height="13" rx="1.5" fill="#fff" shape-rendering="geometricPrecision"/>
<text transform="translate(118.625,177.1) scale(0.75,1)" font-size="13" letter-spacing="3.0" text-anchor="middle">SL2</text>
<rect x="102" y="209" width="31" height="15" rx="2" fill="#000" shape-rendering="geometricPrecision"/>
<rect x="103" y="210" width="29" height="13" rx="1.5" fill="#fff" shape-rendering="geometricPrecision"/>
<text transform="translate(118.625,221.1) scale(0.75,1)" font-size="13" letter-spacing="3.0" text-anchor="middle">SL3</text>
<rect x="32" y="165" width="41" height="15" rx="2" fill="#000" shape-rendering="geometricPrecision"/>
<rect x="33" y="166" width="39" height="13" rx="1.5" fill="#fff" shape-rendering="geometricPrecision"/>
<text transform="translate(53.625,177.1) scale(0.75,1)" font-size="13" letter-spacing="3.0" text-anchor="middle">JP32</text>
<rect x="32" y="209" width="41" height="15" rx="2" fill="#000" shape-rendering="geometricPrecision"/>
<rect x="33" y="210" width="39" height="13" rx="1.5" fill="#fff" shape-rendering="geometricPrecision"/>
<text transform="translate(53.625,221.1) scale(0.75,1)" font-size="13" letter-spacing="3.0" text-anchor="middle">JP30</text>
<rect x="45" y="374" width="58" height="16" rx="2" fill="#000" shape-rendering="geometricPrecision"/>
<rect x="46" y="375" width="56" height="14" rx="1.5" fill="#fff" shape-rendering="geometricPrecision"/>
<text transform="translate(75.125,386.6) scale(0.75,1)" font-size="13" letter-spacing="3.0" text-anchor="middle">BANK 0</text>
<rect x="50" y="418" width="49" height="17" rx="2" fill="#000" shape-rendering="geometricPrecision"/>
<rect x="51" y="419" width="47" height="15" rx="1.5" fill="#fff" shape-rendering="geometricPrecision"/>
<text transform="translate(75.625,431.1) scale(0.75,1)" font-size="13" letter-spacing="3.0" text-anchor="middle">CACHE</text>
<rect x="45" y="463" width="58" height="16" rx="2" fill="#000" shape-rendering="geometricPrecision"/>
<rect x="46" y="464" width="56" height="14" rx="1.5" fill="#fff" shape-rendering="geometricPrecision"/>
<text transform="translate(75.125,475.6) scale(0.75,1)" font-size="13" letter-spacing="3.0" text-anchor="middle">BANK 1</text>
<rect x="392" y="254" width="31" height="16" rx="2" fill="#000" shape-rendering="geometricPrecision"/>
<rect x="393" y="255" width="29" height="14" rx="1.5" fill="#fff" shape-rendering="geometricPrecision"/>
<text transform="translate(408.625,266.6) scale(0.75,1)" font-size="13" letter-spacing="3.0" text-anchor="middle">PC1</text>
<rect x="392" y="298" width="31" height="16" rx="2" fill="#000" shape-rendering="geometricPrecision"/>
<rect x="393" y="299" width="29" height="14" rx="1.5" fill="#fff" shape-rendering="geometricPrecision"/>
<text transform="translate(408.625,310.6) scale(0.75,1)" font-size="13" letter-spacing="3.0" text-anchor="middle">PC2</text>
<rect x="392" y="343" width="31" height="16" rx="2" fill="#000" shape-rendering="geometricPrecision"/>
<rect x="393" y="344" width="29" height="14" rx="1.5" fill="#fff" shape-rendering="geometricPrecision"/>
<text transform="translate(408.625,355.6) scale(0.75,1)" font-size="13" letter-spacing="3.0" text-anchor="middle">PC3</text>
<polyline points="43,29 50,20" fill="none" stroke="#000" stroke-width="2.5" stroke-linejoin="miter" shape-rendering="geometricPrecision"/>
<polyline points="20,36 28,45" fill="none" stroke="#000" stroke-width="2.5" stroke-linejoin="miter" shape-rendering="geometricPrecision"/>
<polyline points="66,35 76,46" fill="none" stroke="#000" stroke-width="2.5" stroke-linejoin="miter" shape-rendering="geometricPrecision"/>
<polyline points="106,29 115,21" fill="none" stroke="#000" stroke-width="2.5" stroke-linejoin="miter" shape-rendering="geometricPrecision"/>
<polygon points="141,29.5 131,32.4 131,35.6 141,38.5" fill="#000" shape-rendering="geometricPrecision"/>
<polygon points="142.5,31.8 132.5,33.4 132.5,34.6 142.5,36.2" fill="#fff" shape-rendering="geometricPrecision"/>
<polyline points="131.5,34 125,32" fill="none" stroke="#000" stroke-width="2.5" stroke-linejoin="miter" shape-rendering="geometricPrecision"/>
<polygon points="39,98.5 29,101.4 29,104.6 39,107.5" fill="#000" shape-rendering="geometricPrecision"/>
<polygon points="40.5,100.8 30.5,102.4 30.5,103.6 40.5,105.2" fill="#fff" shape-rendering="geometricPrecision"/>
<polyline points="29.5,103 23,102.5" fill="none" stroke="#000" stroke-width="2.5" stroke-linejoin="miter" shape-rendering="geometricPrecision"/>
<polygon points="78,145.5 88,148.4 88,151.6 78,154.5" fill="#000" shape-rendering="geometricPrecision"/>
<polygon points="76.5,147.8 86.5,149.4 86.5,150.6 76.5,152.2" fill="#fff" shape-rendering="geometricPrecision"/>
<polyline points="87.5,150 93,151" fill="none" stroke="#000" stroke-width="2.5" stroke-linejoin="miter" shape-rendering="geometricPrecision"/>
<polygon points="134,145.5 124,148.4 124,151.6 134,154.5" fill="#000" shape-rendering="geometricPrecision"/>
<polygon points="135.5,147.8 125.5,149.4 125.5,150.6 135.5,152.2" fill="#fff" shape-rendering="geometricPrecision"/>
<polyline points="124.5,150 120,151" fill="none" stroke="#000" stroke-width="2.5" stroke-linejoin="miter" shape-rendering="geometricPrecision"/>
<polyline points="23,188 32,180" fill="none" stroke="#000" stroke-width="2.5" stroke-linejoin="miter" shape-rendering="geometricPrecision"/>
<polygon points="39,189.5 29,192.4 29,195.6 39,198.5" fill="#000" shape-rendering="geometricPrecision"/>
<polygon points="40.5,191.8 30.5,193.4 30.5,194.6 40.5,196.2" fill="#fff" shape-rendering="geometricPrecision"/>
<polyline points="29.5,194 23,194" fill="none" stroke="#000" stroke-width="2.5" stroke-linejoin="miter" shape-rendering="geometricPrecision"/>
<polyline points="23,200 32,208" fill="none" stroke="#000" stroke-width="2.5" stroke-linejoin="miter" shape-rendering="geometricPrecision"/>
<polygon points="313,188.5 323,191.4 323,194.6 313,197.5" fill="#000" shape-rendering="geometricPrecision"/>
<polygon points="311.5,190.8 321.5,192.4 321.5,193.6 311.5,195.2" fill="#fff" shape-rendering="geometricPrecision"/>
<polyline points="322.5,193 330,193" fill="none" stroke="#000" stroke-width="2.5" stroke-linejoin="miter" shape-rendering="geometricPrecision"/>
<polygon points="423,193.5 413,196.4 413,199.6 423,202.5" fill="#000" shape-rendering="geometricPrecision"/>
<polygon points="424.5,195.8 414.5,197.4 414.5,198.6 424.5,200.2" fill="#fff" shape-rendering="geometricPrecision"/>
<polyline points="413.5,198 407,199" fill="none" stroke="#000" stroke-width="2.5" stroke-linejoin="miter" shape-rendering="geometricPrecision"/>
<polyline points="307,266 316,275" fill="none" stroke="#000" stroke-width="2.5" stroke-linejoin="miter" shape-rendering="geometricPrecision"/>
<polygon points="543,301.5 553,304.4 553,307.6 543,310.5" fill="#000" shape-rendering="geometricPrecision"/>
<polygon points="541.5,303.8 551.5,305.4 551.5,306.6 541.5,308.2" fill="#fff" shape-rendering="geometricPrecision"/>
<polyline points="552.5,306 558,306" fill="none" stroke="#000" stroke-width="2.5" stroke-linejoin="miter" shape-rendering="geometricPrecision"/>
<polygon points="536,322.5 546,325.4 546,328.6 536,331.5" fill="#000" shape-rendering="geometricPrecision"/>
<polygon points="534.5,324.8 544.5,326.4 544.5,327.6 534.5,329.2" fill="#fff" shape-rendering="geometricPrecision"/>
<polyline points="545.5,327 551,327" fill="none" stroke="#000" stroke-width="2.5" stroke-linejoin="miter" shape-rendering="geometricPrecision"/>
<polygon points="538,349.5 528,352.4 528,355.6 538,358.5" fill="#000" shape-rendering="geometricPrecision"/>
<polygon points="539.5,351.8 529.5,353.4 529.5,354.6 539.5,356.2" fill="#fff" shape-rendering="geometricPrecision"/>
<polyline points="528.5,354 524,354" fill="none" stroke="#000" stroke-width="2.5" stroke-linejoin="miter" shape-rendering="geometricPrecision"/>
<polyline points="86,243 96,252" fill="none" stroke="#000" stroke-width="2.5" stroke-linejoin="miter" shape-rendering="geometricPrecision"/>
<polygon points="70,256.5 80,259.4 80,262.6 70,265.5" fill="#000" shape-rendering="geometricPrecision"/>
<polygon points="68.5,258.8 78.5,260.4 78.5,261.6 68.5,263.2" fill="#fff" shape-rendering="geometricPrecision"/>
<polyline points="79.5,261 84,262" fill="none" stroke="#000" stroke-width="2.5" stroke-linejoin="miter" shape-rendering="geometricPrecision"/>
<polyline points="82,287 91,278" fill="none" stroke="#000" stroke-width="2.5" stroke-linejoin="miter" shape-rendering="geometricPrecision"/>
<polyline points="161,306 154,317" fill="none" stroke="#000" stroke-width="2.5" stroke-linejoin="miter" shape-rendering="geometricPrecision"/>
<polyline points="142,331 156,340" fill="none" stroke="#000" stroke-width="2.5" stroke-linejoin="miter" shape-rendering="geometricPrecision"/>
<polygon points="204,319.5 194,322.4 194,325.6 204,328.5" fill="#000" shape-rendering="geometricPrecision"/>
<polygon points="205.5,321.8 195.5,323.4 195.5,324.6 205.5,326.2" fill="#fff" shape-rendering="geometricPrecision"/>
<polyline points="194.5,324 188,323" fill="none" stroke="#000" stroke-width="2.5" stroke-linejoin="miter" shape-rendering="geometricPrecision"/>
<polyline points="208,358 196,368" fill="none" stroke="#000" stroke-width="2.5" stroke-linejoin="miter" shape-rendering="geometricPrecision"/>
<polygon points="215,371.5 205,374.4 205,377.6 215,380.5" fill="#000" shape-rendering="geometricPrecision"/>
<polygon points="216.5,373.8 206.5,375.4 206.5,376.6 216.5,378.2" fill="#fff" shape-rendering="geometricPrecision"/>
<polyline points="205.5,376 200,374" fill="none" stroke="#000" stroke-width="2.5" stroke-linejoin="miter" shape-rendering="geometricPrecision"/>
<polygon points="155,381.5 165,384.4 165,387.6 155,390.5" fill="#000" shape-rendering="geometricPrecision"/>
<polygon points="153.5,383.8 163.5,385.4 163.5,386.6 153.5,388.2" fill="#fff" shape-rendering="geometricPrecision"/>
<polyline points="164.5,386 170,387" fill="none" stroke="#000" stroke-width="2.5" stroke-linejoin="miter" shape-rendering="geometricPrecision"/>
<polygon points="139,410.5 149,413.4 149,416.6 139,419.5" fill="#000" shape-rendering="geometricPrecision"/>
<polygon points="137.5,412.8 147.5,414.4 147.5,415.6 137.5,417.2" fill="#fff" shape-rendering="geometricPrecision"/>
<polyline points="148.5,415 152,417" fill="none" stroke="#000" stroke-width="2.5" stroke-linejoin="miter" shape-rendering="geometricPrecision"/>
<polygon points="139,430.5 149,433.4 149,436.6 139,439.5" fill="#000" shape-rendering="geometricPrecision"/>
<polygon points="137.5,432.8 147.5,434.4 147.5,435.6 137.5,437.2" fill="#fff" shape-rendering="geometricPrecision"/>
<polyline points="148.5,435 152,437" fill="none" stroke="#000" stroke-width="2.5" stroke-linejoin="miter" shape-rendering="geometricPrecision"/>
<polygon points="237,516.5 247,519.4 247,522.6 237,525.5" fill="#000" shape-rendering="geometricPrecision"/>
<polygon points="235.5,518.8 245.5,520.4 245.5,521.6 235.5,523.2" fill="#fff" shape-rendering="geometricPrecision"/>
<polyline points="246.5,521 252,521" fill="none" stroke="#000" stroke-width="2.5" stroke-linejoin="miter" shape-rendering="geometricPrecision"/>
<polyline points="276,524 264,533" fill="none" stroke="#000" stroke-width="2.5" stroke-linejoin="miter" shape-rendering="geometricPrecision"/>
<polygon points="334,510.5 344,513.4 344,516.6 334,519.5" fill="#000" shape-rendering="geometricPrecision"/>
<polygon points="332.5,512.8 342.5,514.4 342.5,515.6 332.5,517.2" fill="#fff" shape-rendering="geometricPrecision"/>
<polyline points="343.5,515 351,516" fill="none" stroke="#000" stroke-width="2.5" stroke-linejoin="miter" shape-rendering="geometricPrecision"/>
<polyline points="158,494 155,511" fill="none" stroke="#000" stroke-width="2" stroke-linejoin="miter" shape-rendering="geometricPrecision"/>
<text transform="translate(147,503) scale(0.75,1)" font-size="13" letter-spacing="0" text-anchor="start">3</text>
</svg></body></html>
